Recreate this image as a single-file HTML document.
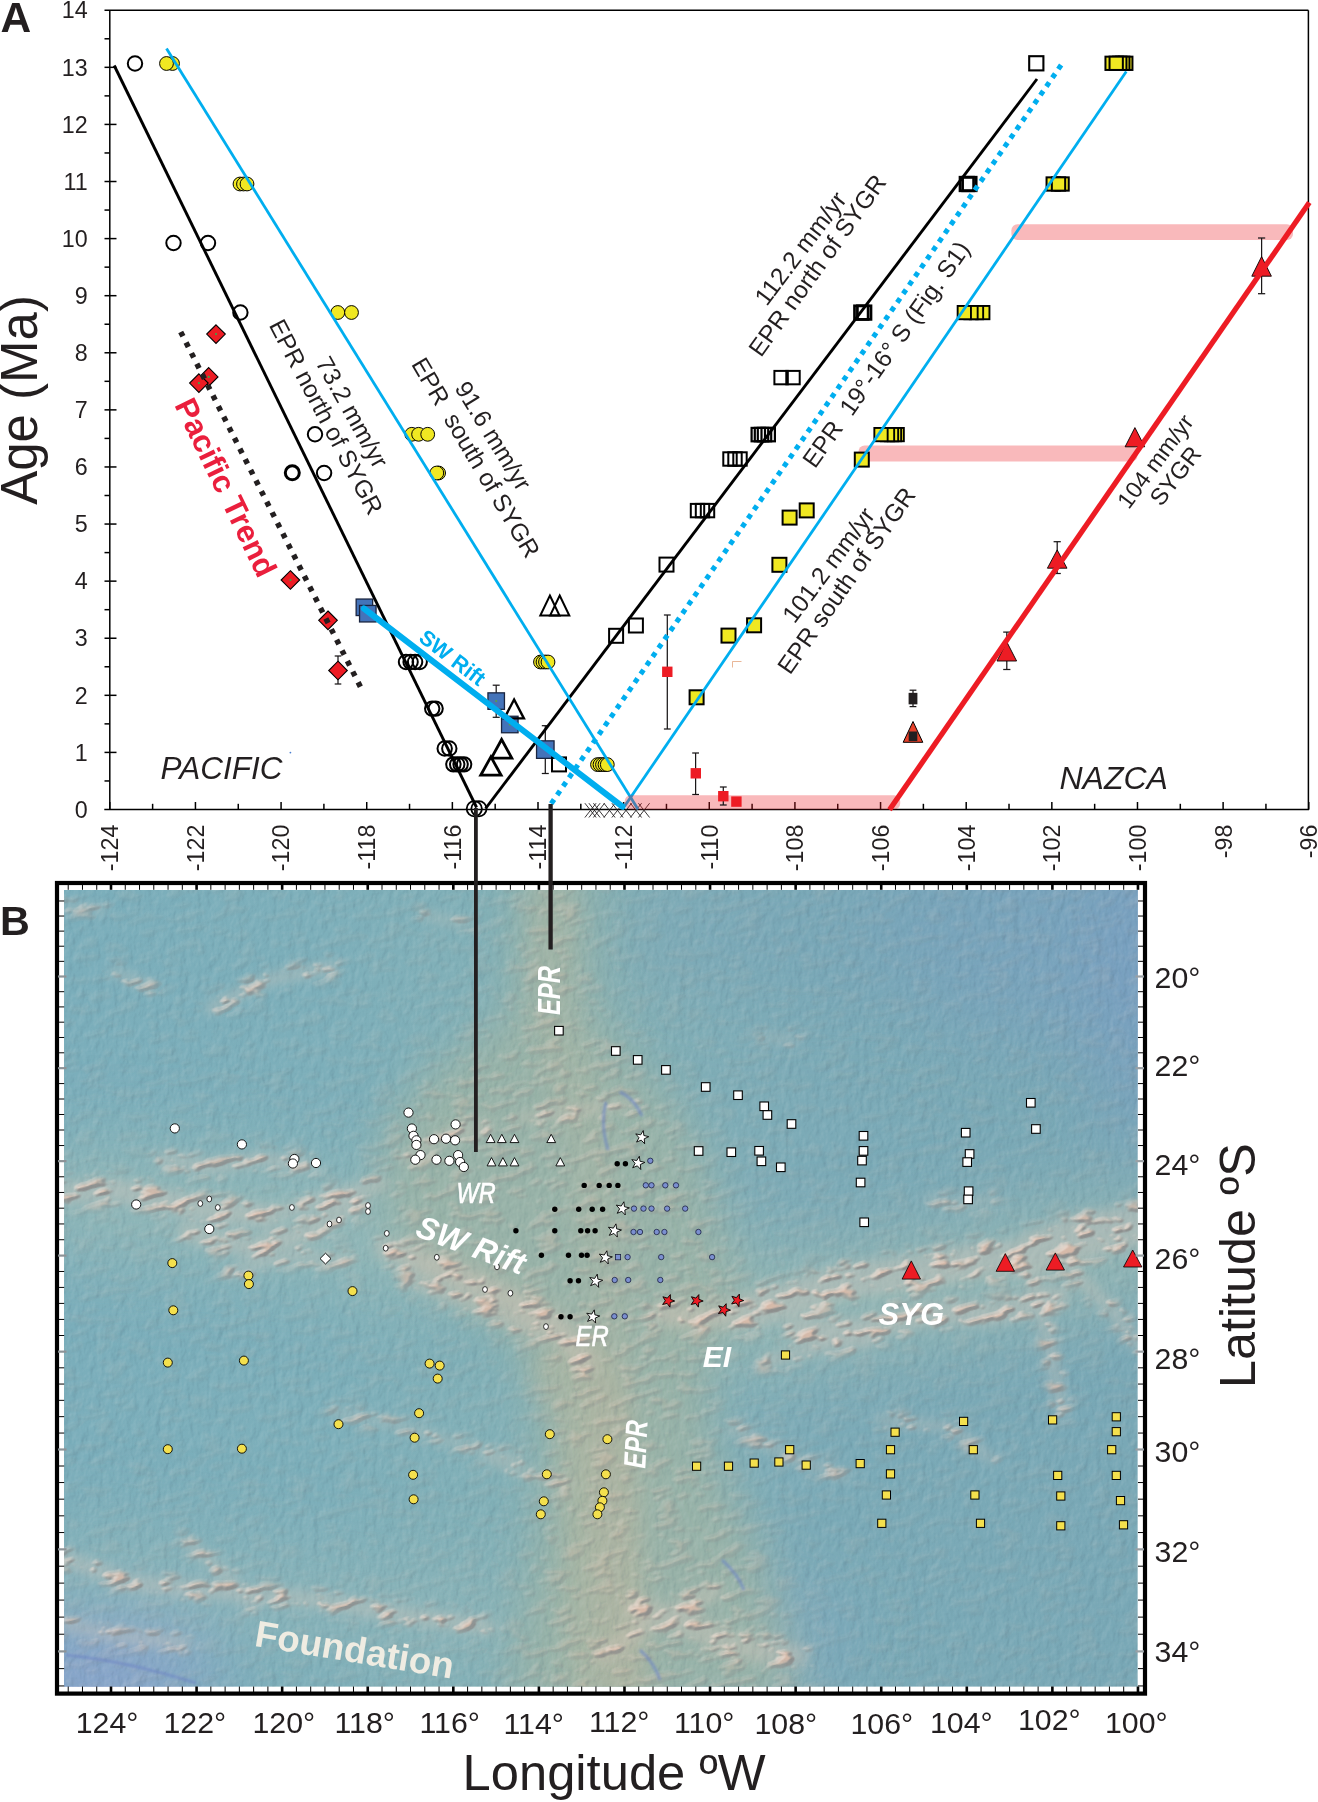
<!DOCTYPE html>
<html lang="en">
<head>
<meta charset="utf-8">
<title>Figure: Age vs Longitude and bathymetric map</title>
<style>
html,body{margin:0;padding:0;background:#fff;}
body{width:1318px;height:1802px;overflow:hidden;}
svg{display:block;font-family:"Liberation Sans",Arial,Helvetica,sans-serif;}
</style>
</head>
<body>
<svg width="1318" height="1802" viewBox="0 0 1318 1802" fill="#231f20">
<rect x="0" y="0" width="1318" height="1802" fill="#ffffff"/>
<g id="panelB">
<defs>
<clipPath id="mapclip"><rect x="64" y="890" width="1073.8" height="796.8"/></clipPath>
<filter id="b40" x="-30%" y="-30%" width="160%" height="160%"><feGaussianBlur stdDeviation="40"/></filter>
<filter id="b25" x="-30%" y="-30%" width="160%" height="160%"><feGaussianBlur stdDeviation="22"/></filter>
<filter id="b12" x="-30%" y="-30%" width="160%" height="160%"><feGaussianBlur stdDeviation="11"/></filter>
<filter id="b6" x="-20%" y="-20%" width="140%" height="140%"><feGaussianBlur stdDeviation="6"/></filter>
<filter id="b1" x="-5%" y="-5%" width="110%" height="110%"><feGaussianBlur stdDeviation="1.3"/></filter>
<filter id="fabric" x="0" y="0" width="100%" height="100%" color-interpolation-filters="sRGB">
  <feTurbulence type="fractalNoise" baseFrequency="0.12 0.07" numOctaves="4" seed="11" result="n"/>
  <feDiffuseLighting in="n" surfaceScale="1.6" diffuseConstant="1" lighting-color="#ffffff" result="l">
    <feDistantLight azimuth="215" elevation="50"/>
  </feDiffuseLighting>
  <feColorMatrix in="l" type="matrix" values="0 0 0 0 1  0 0 0 0 1  0 0 0 0 1  2.2 0 0 0 -1.68" result="hi"/>
  <feColorMatrix in="l" type="matrix" values="0 0 0 0 0.22  0 0 0 0 0.32  0 0 0 0 0.40  -2.2 0 0 0 1.60" result="lo"/>
  <feMerge><feMergeNode in="lo"/><feMergeNode in="hi"/></feMerge>
</filter>
<filter id="ridges" x="0" y="0" width="100%" height="100%" color-interpolation-filters="sRGB">
  <feTurbulence type="fractalNoise" baseFrequency="0.04 0.13" numOctaves="3" seed="4" result="n"/>
  <feColorMatrix in="n" type="matrix" values="0 0 0 0 0  0 0 0 0 0  0 0 0 0 0  7 0 0 0 -3.85" result="h"/>
  <feGaussianBlur in="h" stdDeviation="1.1" result="hb"/>
  <feDiffuseLighting in="hb" surfaceScale="3.2" diffuseConstant="1" lighting-color="#ffffff" result="lit">
    <feDistantLight azimuth="235" elevation="45"/>
  </feDiffuseLighting>
  <feColorMatrix in="lit" type="matrix" values="0 0 0 0 0.97  0 0 0 0 0.90  0 0 0 0 0.86  2.6 0 0 0 -1.95" result="hi"/>
  <feColorMatrix in="lit" type="matrix" values="0 0 0 0 0.52  0 0 0 0 0.52  0 0 0 0 0.52  -1.4 0 0 0 0.9" result="lo"/>
  <feColorMatrix in="hb" type="matrix" values="0 0 0 0 0.86  0 0 0 0 0.73  0 0 0 0 0.66  0 0 0 1.0 0" result="body"/>
  <feMerge><feMergeNode in="body"/><feMergeNode in="lo"/><feMergeNode in="hi"/></feMerge>
</filter>
<linearGradient id="seaLR" gradientUnits="userSpaceOnUse" x1="64" y1="0" x2="1138" y2="0">
  <stop offset="0" stop-color="#7baebb"/><stop offset="0.25" stop-color="#7dafba"/>
  <stop offset="0.40" stop-color="#82b0b7"/><stop offset="0.50" stop-color="#86b0b4"/>
  <stop offset="0.60" stop-color="#80aeb7"/>
  <stop offset="0.72" stop-color="#7baab7"/><stop offset="1" stop-color="#79a8b6"/>
</linearGradient>
<mask id="chainmask" maskUnits="userSpaceOnUse" x="64" y="890" width="1073.8" height="796.8">
<rect x="64" y="890" width="1073.8" height="796.8" fill="#000"/>
<g filter="url(#b6)" fill="none" stroke="#fff" stroke-linecap="round" stroke-linejoin="round">
<path d="M64,1193.13 L112.89,1189.87 L161.78,1199.65 L218.82,1211.87 L267.72,1215.95" stroke-width="26"/>
<path d="M161.78,1158.9 L210.68,1167.05 L259.57,1158.9 L308.46,1165.42" stroke-width="16"/>
<path d="M186.23,1232.24 L251.42,1248.54 L308.46,1232.24 L357.35,1199.65" stroke-width="22"/>
<path d="M284.01,1211.87 L332.9,1195.57 L381.8,1184.98" stroke-width="16"/>
<path d="M226.97,1272.99 L292.16,1256.69 L349.2,1260.76" stroke-width="12"/>
<path d="M385.87,1248.54 L446.99,1272.99 L504.03,1297.43 L561.07,1330.03 L585.51,1362.62" stroke-width="26"/>
<path d="M406.24,1281.13 L471.43,1305.58 L536.62,1334.1" stroke-width="12"/>
<path d="M520.32,1118.16 L569.22,1111.64 L634.4,1103.49" stroke-width="12"/>
<path d="M658.85,1313.73 L707.74,1317.8 L748.49,1309.65" stroke-width="24"/>
<path d="M740.34,1313.73 L797.38,1297.43 L846.27,1281.13 L911.46,1272.99 L976.65,1260.76 L1041.84,1256.69 L1090.73,1240.39 L1137.99,1228.17" stroke-width="40"/>
<path d="M1025.54,1240.39 L1082.58,1220.02 L1137.99,1211.87" stroke-width="18"/>
<path d="M797.38,1330.03 L862.57,1330.03 L927.75,1313.73 L992.94,1313.73 L1058.13,1297.43" stroke-width="26"/>
<path d="M1033.69,1281.13 L1049.98,1346.32 L1062.21,1411.51" stroke-width="14"/>
<path d="M1074.43,1272.99 L1115.17,1313.73 L1137.99,1346.32" stroke-width="14"/>
<path d="M764.78,1362.62 L821.82,1346.32 L870.71,1342.25" stroke-width="14"/>
<path d="M64,1558.19 L129.19,1582.63 L210.68,1590.78 L308.46,1598.93 L406.24,1615.23 L487.73,1627.45" stroke-width="18"/>
<path d="M186.23,1541.89 L226.97,1574.49 L251.42,1607.08" stroke-width="12"/>
<path d="M64,1623.38 L112.89,1635.6 L186.23,1643.75" stroke-width="14"/>
<path d="M634.4,1607.08 L683.3,1623.38 L740.34,1647.82 L797.38,1655.97" stroke-width="26"/>
<path d="M601.81,1655.97 L650.7,1623.38 L715.89,1590.78" stroke-width="18"/>
<path d="M332.9,1411.51 L406.24,1427.81 L487.73,1452.26 L520.32,1460.4" stroke-width="9"/>
<path d="M487.73,1460.4 L536.62,1476.7 L569.22,1484.85" stroke-width="8"/>
<path d="M210.68,1008.16 L267.72,979.63 L332.9,967.41" stroke-width="14"/>
<path d="M112.89,971.49 L153.63,987.78" stroke-width="10"/>
<path d="M64,906.3 L104.74,910.37" stroke-width="8"/>
<path d="M406.24,1158.9 L446.99,1134.46 L487.73,1126.31" stroke-width="14"/>
<path d="M764.78,1036.68 L797.38,1040.75" stroke-width="8"/>
<path d="M927.75,1199.65 L960.35,1203.72 L992.94,1199.65" stroke-width="8"/>
<path d="M878.86,1419.66 L952.2,1427.81 L992.94,1460.4" stroke-width="10"/>
<path d="M732.19,1427.81 L797.38,1460.4 L846.27,1476.7" stroke-width="10"/>
<path d="M422.54,914.45 L471.43,926.67" stroke-width="8"/>
</g>
<rect x="64" y="890" width="1073.8" height="796.8" fill="#fff" opacity="0.10"/>
<polygon points="520.32,865.55 585.51,865.55 593.66,1012.23 650.7,1077.42 695.52,1134.46 719.96,1215.95 744.41,1281.13 724.04,1334.1 707.74,1378.92 715.89,1460.4 756.63,1541.89 785.15,1623.38 801.45,1713.01 508.1,1713.01 520.32,1623.38 536.62,1541.89 544.77,1460.4 536.62,1378.92 508.1,1330.03 434.76,1281.13 381.8,1215.95 381.8,1134.46 422.54,1077.42 510.54,1012.23" fill="#fff" opacity="0.22" filter="url(#b25)"/>
</mask>
</defs>
<g id="mapbg" clip-path="url(#mapclip)">
<rect x="64" y="890" width="1073.8" height="796.8" fill="url(#seaLR)"/>
<g filter="url(#b40)">
<ellipse cx="1090" cy="930" rx="230" ry="110" fill="#78a0c0" opacity="0.6"/>
<ellipse cx="800" cy="930" rx="180" ry="70" fill="#78a5b8" opacity="0.6"/>
<ellipse cx="1160" cy="1000" rx="70" ry="150" fill="#7a9cc2" opacity="0.55"/>
<ellipse cx="95" cy="1675" rx="120" ry="38" fill="#8d9fd2" opacity="0.95"/>
<ellipse cx="750" cy="1640" rx="100" ry="55" fill="#84a8c4" opacity="0.5"/>
<path d="M64,1199.65 L186.23,1207.8 L308.46,1224.09 L414.39,1248.54" fill="none" stroke="#9cbcb6" stroke-width="110" stroke-linecap="round" opacity="0.65"/>
<path d="M740.34,1313.73 L878.86,1297.43 L1001.09,1272.99 L1137.99,1248.54" fill="none" stroke="#9ebab2" stroke-width="110" stroke-linecap="round" opacity="0.7"/>
<path d="M64,1566.34 L226.97,1590.78 L471.43,1623.38" fill="none" stroke="#98b8b8" stroke-width="90" stroke-linecap="round" opacity="0.55"/>
</g>
<g filter="url(#b25)">
<polygon points="520.32,865.55 585.51,865.55 593.66,1012.23 650.7,1077.42 695.52,1134.46 719.96,1215.95 744.41,1281.13 724.04,1334.1 707.74,1378.92 715.89,1460.4 756.63,1541.89 785.15,1623.38 801.45,1713.01 508.1,1713.01 520.32,1623.38 536.62,1541.89 544.77,1460.4 536.62,1378.92 508.1,1330.03 434.76,1281.13 381.8,1215.95 381.8,1134.46 422.54,1077.42 510.54,1012.23" fill="#9ab3a6" opacity="0.9"/>
</g>
<g filter="url(#b12)">
<path d="M551.29,873.7 L552.92,1012.23 L585.51,1134.46 L609.96,1313.73 L605.88,1460.4 L626.26,1704.86" fill="none" stroke="#adb5a2" stroke-width="46" opacity="0.4"/>
<path d="M561.07,1346.32 L593.66,1411.51 L601.81,1509.3 L609.96,1704.86" fill="none" stroke="#b8b49e" stroke-width="80" opacity="0.42"/>
<path d="M406.24,1248.54 L487.73,1289.28 L569.22,1334.1" fill="none" stroke="#b4b6a6" stroke-width="40" opacity="0.45"/>
<path d="M658.85,1313.73 L732.19,1313.73" fill="none" stroke="#b4b6a6" stroke-width="36" opacity="0.4"/>
</g>
<rect x="64" y="890" width="1073.8" height="796.8" fill="#ffffff" filter="url(#fabric)" opacity="0.2"/>
<g filter="url(#b6)" fill="none" stroke="#d8c8bc" stroke-linecap="round" stroke-linejoin="round" opacity="0.36">
<path d="M64,1193.13 L112.89,1189.87 L161.78,1199.65 L218.82,1211.87 L267.72,1215.95" stroke-width="23.4"/>
<path d="M161.78,1158.9 L210.68,1167.05 L259.57,1158.9 L308.46,1165.42" stroke-width="14.4"/>
<path d="M186.23,1232.24 L251.42,1248.54 L308.46,1232.24 L357.35,1199.65" stroke-width="19.8"/>
<path d="M284.01,1211.87 L332.9,1195.57 L381.8,1184.98" stroke-width="14.4"/>
<path d="M226.97,1272.99 L292.16,1256.69 L349.2,1260.76" stroke-width="10.8"/>
<path d="M385.87,1248.54 L446.99,1272.99 L504.03,1297.43 L561.07,1330.03 L585.51,1362.62" stroke-width="23.4"/>
<path d="M406.24,1281.13 L471.43,1305.58 L536.62,1334.1" stroke-width="10.8"/>
<path d="M520.32,1118.16 L569.22,1111.64 L634.4,1103.49" stroke-width="10.8"/>
<path d="M658.85,1313.73 L707.74,1317.8 L748.49,1309.65" stroke-width="21.6"/>
<path d="M740.34,1313.73 L797.38,1297.43 L846.27,1281.13 L911.46,1272.99 L976.65,1260.76 L1041.84,1256.69 L1090.73,1240.39 L1137.99,1228.17" stroke-width="36"/>
<path d="M1025.54,1240.39 L1082.58,1220.02 L1137.99,1211.87" stroke-width="16.2"/>
<path d="M797.38,1330.03 L862.57,1330.03 L927.75,1313.73 L992.94,1313.73 L1058.13,1297.43" stroke-width="23.4"/>
<path d="M1033.69,1281.13 L1049.98,1346.32 L1062.21,1411.51" stroke-width="12.6"/>
<path d="M1074.43,1272.99 L1115.17,1313.73 L1137.99,1346.32" stroke-width="12.6"/>
<path d="M764.78,1362.62 L821.82,1346.32 L870.71,1342.25" stroke-width="12.6"/>
<path d="M64,1558.19 L129.19,1582.63 L210.68,1590.78 L308.46,1598.93 L406.24,1615.23 L487.73,1627.45" stroke-width="16.2"/>
<path d="M186.23,1541.89 L226.97,1574.49 L251.42,1607.08" stroke-width="10.8"/>
<path d="M64,1623.38 L112.89,1635.6 L186.23,1643.75" stroke-width="12.6"/>
<path d="M634.4,1607.08 L683.3,1623.38 L740.34,1647.82 L797.38,1655.97" stroke-width="23.4"/>
<path d="M601.81,1655.97 L650.7,1623.38 L715.89,1590.78" stroke-width="16.2"/>
<path d="M332.9,1411.51 L406.24,1427.81 L487.73,1452.26 L520.32,1460.4" stroke-width="8.1"/>
<path d="M487.73,1460.4 L536.62,1476.7 L569.22,1484.85" stroke-width="7.2"/>
<path d="M210.68,1008.16 L267.72,979.63 L332.9,967.41" stroke-width="12.6"/>
<path d="M112.89,971.49 L153.63,987.78" stroke-width="9"/>
<path d="M64,906.3 L104.74,910.37" stroke-width="7.2"/>
<path d="M406.24,1158.9 L446.99,1134.46 L487.73,1126.31" stroke-width="12.6"/>
<path d="M764.78,1036.68 L797.38,1040.75" stroke-width="7.2"/>
<path d="M927.75,1199.65 L960.35,1203.72 L992.94,1199.65" stroke-width="7.2"/>
<path d="M878.86,1419.66 L952.2,1427.81 L992.94,1460.4" stroke-width="9"/>
<path d="M732.19,1427.81 L797.38,1460.4 L846.27,1476.7" stroke-width="9"/>
<path d="M422.54,914.45 L471.43,926.67" stroke-width="7.2"/>
</g>
<g mask="url(#chainmask)" opacity="0.9"><g transform="rotate(-14 600 1290)"><rect x="-100" y="600" width="1500" height="1400" fill="#ffffff" filter="url(#ridges)"/></g></g>
<g filter="url(#b1)" fill="none" stroke="#6d86c4" stroke-width="3" opacity="0.6">
<path d="M620,1092 q14,6 22,24"/>
<path d="M606,1102 q-6,22 2,48"/>
<path d="M722,1560 q16,14 22,30"/>
<path d="M640,1650 q14,12 20,30"/>
<path d="M66,1655 q60,6 130,28"/>
</g>
</g>
<g id="mapmarkers">
<circle cx="408.5" cy="1112.6" r="4.6" fill="#ffffff" stroke="#000" stroke-width="0.9"/>
<circle cx="411.9" cy="1128.5" r="4.6" fill="#ffffff" stroke="#000" stroke-width="0.9"/>
<circle cx="413.5" cy="1135.8" r="4.6" fill="#ffffff" stroke="#000" stroke-width="0.9"/>
<circle cx="416.4" cy="1140.3" r="4.6" fill="#ffffff" stroke="#000" stroke-width="0.9"/>
<circle cx="416.4" cy="1144.9" r="4.6" fill="#ffffff" stroke="#000" stroke-width="0.9"/>
<circle cx="455.6" cy="1124.4" r="4.6" fill="#ffffff" stroke="#000" stroke-width="0.9"/>
<circle cx="434" cy="1139.2" r="4.6" fill="#ffffff" stroke="#000" stroke-width="0.9"/>
<circle cx="446" cy="1138.7" r="4.6" fill="#ffffff" stroke="#000" stroke-width="0.9"/>
<circle cx="455.1" cy="1140.3" r="4.6" fill="#ffffff" stroke="#000" stroke-width="0.9"/>
<circle cx="420.5" cy="1155.1" r="4.6" fill="#ffffff" stroke="#000" stroke-width="0.9"/>
<circle cx="415.3" cy="1159.7" r="4.6" fill="#ffffff" stroke="#000" stroke-width="0.9"/>
<circle cx="436.5" cy="1159.7" r="4.6" fill="#ffffff" stroke="#000" stroke-width="0.9"/>
<circle cx="449.4" cy="1160.8" r="4.6" fill="#ffffff" stroke="#000" stroke-width="0.9"/>
<circle cx="458.1" cy="1155.1" r="4.6" fill="#ffffff" stroke="#000" stroke-width="0.9"/>
<circle cx="460.1" cy="1162" r="4.6" fill="#ffffff" stroke="#000" stroke-width="0.9"/>
<circle cx="463.8" cy="1167" r="4.6" fill="#ffffff" stroke="#000" stroke-width="0.9"/>
<circle cx="174.8" cy="1128.4" r="4.6" fill="#ffffff" stroke="#000" stroke-width="0.9"/>
<circle cx="241.9" cy="1144.4" r="4.6" fill="#ffffff" stroke="#000" stroke-width="0.9"/>
<circle cx="294.4" cy="1159" r="4.6" fill="#ffffff" stroke="#000" stroke-width="0.9"/>
<circle cx="292.9" cy="1163.5" r="4.6" fill="#ffffff" stroke="#000" stroke-width="0.9"/>
<circle cx="316" cy="1163" r="4.6" fill="#ffffff" stroke="#000" stroke-width="0.9"/>
<circle cx="136.2" cy="1204.5" r="4.6" fill="#ffffff" stroke="#000" stroke-width="0.9"/>
<circle cx="209.3" cy="1229" r="4.6" fill="#ffffff" stroke="#000" stroke-width="0.9"/>
<polygon points="325.5,1253.2 331,1258.6 325.5,1264 320,1258.6" fill="#fff" stroke="#000" stroke-width="0.9"/>
<ellipse cx="200.3" cy="1203.5" rx="2.4" ry="2.9" fill="#fff" stroke="#000" stroke-width="0.8"/>
<ellipse cx="209.3" cy="1199" rx="2.4" ry="2.9" fill="#fff" stroke="#000" stroke-width="0.8"/>
<ellipse cx="217.8" cy="1207.5" rx="2.4" ry="2.9" fill="#fff" stroke="#000" stroke-width="0.8"/>
<ellipse cx="291.9" cy="1207.5" rx="2.4" ry="2.9" fill="#fff" stroke="#000" stroke-width="0.8"/>
<ellipse cx="329.5" cy="1224" rx="2.4" ry="2.9" fill="#fff" stroke="#000" stroke-width="0.8"/>
<ellipse cx="339" cy="1220" rx="2.4" ry="2.9" fill="#fff" stroke="#000" stroke-width="0.8"/>
<ellipse cx="368" cy="1205.5" rx="2.4" ry="2.9" fill="#fff" stroke="#000" stroke-width="0.8"/>
<ellipse cx="368" cy="1211.5" rx="2.4" ry="2.9" fill="#fff" stroke="#000" stroke-width="0.8"/>
<ellipse cx="386.8" cy="1233.4" rx="2.4" ry="2.9" fill="#fff" stroke="#000" stroke-width="0.8"/>
<ellipse cx="385.7" cy="1248.2" rx="2.4" ry="2.9" fill="#fff" stroke="#000" stroke-width="0.8"/>
<ellipse cx="436.8" cy="1257.3" rx="2.4" ry="2.9" fill="#fff" stroke="#000" stroke-width="0.8"/>
<ellipse cx="497" cy="1266.9" rx="2.4" ry="2.9" fill="#fff" stroke="#000" stroke-width="0.8"/>
<ellipse cx="485" cy="1289.5" rx="2.4" ry="2.9" fill="#fff" stroke="#000" stroke-width="0.8"/>
<ellipse cx="510.4" cy="1293.2" rx="2.4" ry="2.9" fill="#fff" stroke="#000" stroke-width="0.8"/>
<ellipse cx="546" cy="1326.6" rx="2.4" ry="2.9" fill="#fff" stroke="#000" stroke-width="0.8"/>
<circle cx="172.3" cy="1263.1" r="4.5" fill="#f4e04d" stroke="#000" stroke-width="0.9"/>
<circle cx="248.4" cy="1275.6" r="4.5" fill="#f4e04d" stroke="#000" stroke-width="0.9"/>
<circle cx="248.9" cy="1284.1" r="4.5" fill="#f4e04d" stroke="#000" stroke-width="0.9"/>
<circle cx="352.5" cy="1291.1" r="4.5" fill="#f4e04d" stroke="#000" stroke-width="0.9"/>
<circle cx="173.3" cy="1310.3" r="4.5" fill="#f4e04d" stroke="#000" stroke-width="0.9"/>
<circle cx="167.8" cy="1362.6" r="4.5" fill="#f4e04d" stroke="#000" stroke-width="0.9"/>
<circle cx="243.9" cy="1360.6" r="4.5" fill="#f4e04d" stroke="#000" stroke-width="0.9"/>
<circle cx="429.6" cy="1363.6" r="4.5" fill="#f4e04d" stroke="#000" stroke-width="0.9"/>
<circle cx="439.7" cy="1365.6" r="4.5" fill="#f4e04d" stroke="#000" stroke-width="0.9"/>
<circle cx="437.7" cy="1378.6" r="4.5" fill="#f4e04d" stroke="#000" stroke-width="0.9"/>
<circle cx="419.1" cy="1413.2" r="4.5" fill="#f4e04d" stroke="#000" stroke-width="0.9"/>
<circle cx="338.5" cy="1424.2" r="4.5" fill="#f4e04d" stroke="#000" stroke-width="0.9"/>
<circle cx="414.6" cy="1437.7" r="4.5" fill="#f4e04d" stroke="#000" stroke-width="0.9"/>
<circle cx="167.8" cy="1449.2" r="4.5" fill="#f4e04d" stroke="#000" stroke-width="0.9"/>
<circle cx="241.9" cy="1448.7" r="4.5" fill="#f4e04d" stroke="#000" stroke-width="0.9"/>
<circle cx="413.1" cy="1474.8" r="4.5" fill="#f4e04d" stroke="#000" stroke-width="0.9"/>
<circle cx="413.6" cy="1499.3" r="4.5" fill="#f4e04d" stroke="#000" stroke-width="0.9"/>
<circle cx="549.8" cy="1434.2" r="4.5" fill="#f4e04d" stroke="#000" stroke-width="0.9"/>
<circle cx="607.4" cy="1439.2" r="4.5" fill="#f4e04d" stroke="#000" stroke-width="0.9"/>
<circle cx="546.8" cy="1474.3" r="4.5" fill="#f4e04d" stroke="#000" stroke-width="0.9"/>
<circle cx="605.9" cy="1474.3" r="4.5" fill="#f4e04d" stroke="#000" stroke-width="0.9"/>
<circle cx="543.8" cy="1501.3" r="4.5" fill="#f4e04d" stroke="#000" stroke-width="0.9"/>
<circle cx="540.8" cy="1514.3" r="4.5" fill="#f4e04d" stroke="#000" stroke-width="0.9"/>
<circle cx="603.9" cy="1492.3" r="4.5" fill="#f4e04d" stroke="#000" stroke-width="0.9"/>
<circle cx="602.4" cy="1500.8" r="4.5" fill="#f4e04d" stroke="#000" stroke-width="0.9"/>
<circle cx="599.9" cy="1507.3" r="4.5" fill="#f4e04d" stroke="#000" stroke-width="0.9"/>
<circle cx="597.4" cy="1514.3" r="4.5" fill="#f4e04d" stroke="#000" stroke-width="0.9"/>
<polygon points="490.6,1134.3 495,1142.6 486.2,1142.6" fill="#ffffff" stroke="#000" stroke-width="0.9" stroke-linejoin="miter"/>
<polygon points="501.8,1134.3 506.2,1142.6 497.4,1142.6" fill="#ffffff" stroke="#000" stroke-width="0.9" stroke-linejoin="miter"/>
<polygon points="514.5,1134.3 518.9,1142.6 510.1,1142.6" fill="#ffffff" stroke="#000" stroke-width="0.9" stroke-linejoin="miter"/>
<polygon points="551.2,1134.3 555.6,1142.6 546.8,1142.6" fill="#ffffff" stroke="#000" stroke-width="0.9" stroke-linejoin="miter"/>
<polygon points="491.5,1157.6 495.9,1165.9 487.1,1165.9" fill="#ffffff" stroke="#000" stroke-width="0.9" stroke-linejoin="miter"/>
<polygon points="502.9,1157.6 507.3,1165.9 498.5,1165.9" fill="#ffffff" stroke="#000" stroke-width="0.9" stroke-linejoin="miter"/>
<polygon points="514.5,1157.6 518.9,1165.9 510.1,1165.9" fill="#ffffff" stroke="#000" stroke-width="0.9" stroke-linejoin="miter"/>
<polygon points="560.3,1157.6 564.7,1165.9 555.9,1165.9" fill="#ffffff" stroke="#000" stroke-width="0.9" stroke-linejoin="miter"/>
<circle cx="617.2" cy="1163.8" r="2.7" fill="#000"/>
<circle cx="625.4" cy="1163.8" r="2.7" fill="#000"/>
<circle cx="584.2" cy="1185.4" r="2.7" fill="#000"/>
<circle cx="599.2" cy="1185.4" r="2.7" fill="#000"/>
<circle cx="609.2" cy="1185.4" r="2.7" fill="#000"/>
<circle cx="617.9" cy="1185.4" r="2.7" fill="#000"/>
<circle cx="554.8" cy="1209.3" r="2.7" fill="#000"/>
<circle cx="578.7" cy="1209.3" r="2.7" fill="#000"/>
<circle cx="592.2" cy="1209.3" r="2.7" fill="#000"/>
<circle cx="602.6" cy="1209.3" r="2.7" fill="#000"/>
<circle cx="515.9" cy="1230.7" r="2.7" fill="#000"/>
<circle cx="554.8" cy="1230.7" r="2.7" fill="#000"/>
<circle cx="580.8" cy="1230.7" r="2.7" fill="#000"/>
<circle cx="587.6" cy="1230.7" r="2.7" fill="#000"/>
<circle cx="595.1" cy="1230.7" r="2.7" fill="#000"/>
<circle cx="541.4" cy="1255.3" r="2.7" fill="#000"/>
<circle cx="568.5" cy="1255.3" r="2.7" fill="#000"/>
<circle cx="581.5" cy="1255.3" r="2.7" fill="#000"/>
<circle cx="587.1" cy="1255.3" r="2.7" fill="#000"/>
<circle cx="570.1" cy="1280.8" r="2.7" fill="#000"/>
<circle cx="578.5" cy="1280.8" r="2.7" fill="#000"/>
<circle cx="561" cy="1316.7" r="2.7" fill="#000"/>
<circle cx="570.1" cy="1316.7" r="2.7" fill="#000"/>
<circle cx="650.3" cy="1160.8" r="2.7" fill="#7b8fd0" stroke="#1b2040" stroke-width="0.8"/>
<circle cx="645.8" cy="1185.3" r="2.7" fill="#7b8fd0" stroke="#1b2040" stroke-width="0.8"/>
<circle cx="651.5" cy="1185.3" r="2.7" fill="#7b8fd0" stroke="#1b2040" stroke-width="0.8"/>
<circle cx="665.3" cy="1185.3" r="2.7" fill="#7b8fd0" stroke="#1b2040" stroke-width="0.8"/>
<circle cx="676" cy="1185.3" r="2.7" fill="#7b8fd0" stroke="#1b2040" stroke-width="0.8"/>
<circle cx="634" cy="1208.6" r="2.7" fill="#7b8fd0" stroke="#1b2040" stroke-width="0.8"/>
<circle cx="643.5" cy="1208.6" r="2.7" fill="#7b8fd0" stroke="#1b2040" stroke-width="0.8"/>
<circle cx="651.5" cy="1208.6" r="2.7" fill="#7b8fd0" stroke="#1b2040" stroke-width="0.8"/>
<circle cx="667.1" cy="1208.6" r="2.7" fill="#7b8fd0" stroke="#1b2040" stroke-width="0.8"/>
<circle cx="685.2" cy="1208.6" r="2.7" fill="#7b8fd0" stroke="#1b2040" stroke-width="0.8"/>
<circle cx="633.5" cy="1232" r="2.7" fill="#7b8fd0" stroke="#1b2040" stroke-width="0.8"/>
<circle cx="640" cy="1232" r="2.7" fill="#7b8fd0" stroke="#1b2040" stroke-width="0.8"/>
<circle cx="656.7" cy="1232" r="2.7" fill="#7b8fd0" stroke="#1b2040" stroke-width="0.8"/>
<circle cx="664.4" cy="1232" r="2.7" fill="#7b8fd0" stroke="#1b2040" stroke-width="0.8"/>
<circle cx="698.4" cy="1232" r="2.7" fill="#7b8fd0" stroke="#1b2040" stroke-width="0.8"/>
<circle cx="627.6" cy="1257.1" r="2.7" fill="#7b8fd0" stroke="#1b2040" stroke-width="0.8"/>
<circle cx="661.2" cy="1257.1" r="2.7" fill="#7b8fd0" stroke="#1b2040" stroke-width="0.8"/>
<circle cx="712.1" cy="1257.1" r="2.7" fill="#7b8fd0" stroke="#1b2040" stroke-width="0.8"/>
<circle cx="614.7" cy="1280" r="2.7" fill="#7b8fd0" stroke="#1b2040" stroke-width="0.8"/>
<circle cx="628.2" cy="1280" r="2.7" fill="#7b8fd0" stroke="#1b2040" stroke-width="0.8"/>
<circle cx="660.3" cy="1280" r="2.7" fill="#7b8fd0" stroke="#1b2040" stroke-width="0.8"/>
<circle cx="614.3" cy="1316.3" r="2.7" fill="#7b8fd0" stroke="#1b2040" stroke-width="0.8"/>
<circle cx="624.8" cy="1316.3" r="2.7" fill="#7b8fd0" stroke="#1b2040" stroke-width="0.8"/>
<rect x="615.4" y="1254.6" width="5.2" height="5.2" fill="#7b8fd0" stroke="#1b2040" stroke-width="0.8"/>
<polygon points="643.26,1130.55 643.88,1135.53 648.76,1136.67 644.22,1138.8 644.65,1143.79 641.22,1140.14 636.6,1142.08 639.02,1137.69 635.74,1133.9 640.66,1134.84" fill="#ffffff" stroke="#000" stroke-width="0.9" stroke-linejoin="miter"/>
<polygon points="639.36,1156.25 639.98,1161.23 644.86,1162.37 640.32,1164.5 640.75,1169.49 637.32,1165.84 632.7,1167.78 635.12,1163.39 631.84,1159.6 636.76,1160.54" fill="#ffffff" stroke="#000" stroke-width="0.9" stroke-linejoin="miter"/>
<polygon points="623.86,1201.75 624.48,1206.73 629.36,1207.87 624.82,1210 625.25,1214.99 621.82,1211.34 617.2,1213.28 619.62,1208.89 616.34,1205.1 621.26,1206.04" fill="#ffffff" stroke="#000" stroke-width="0.9" stroke-linejoin="miter"/>
<polygon points="615.96,1223.85 616.58,1228.83 621.46,1229.97 616.92,1232.1 617.35,1237.09 613.92,1233.44 609.3,1235.38 611.72,1230.99 608.44,1227.2 613.36,1228.14" fill="#ffffff" stroke="#000" stroke-width="0.9" stroke-linejoin="miter"/>
<polygon points="606.86,1250.75 607.48,1255.73 612.36,1256.87 607.82,1259 608.25,1263.99 604.82,1260.34 600.2,1262.28 602.62,1257.89 599.34,1254.1 604.26,1255.04" fill="#ffffff" stroke="#000" stroke-width="0.9" stroke-linejoin="miter"/>
<polygon points="597.26,1274.15 597.88,1279.13 602.76,1280.27 598.22,1282.4 598.65,1287.39 595.22,1283.74 590.6,1285.68 593.02,1281.29 589.74,1277.5 594.66,1278.44" fill="#ffffff" stroke="#000" stroke-width="0.9" stroke-linejoin="miter"/>
<polygon points="594.26,1309.85 594.88,1314.83 599.76,1315.97 595.22,1318.1 595.65,1323.09 592.22,1319.44 587.6,1321.38 590.02,1316.99 586.74,1313.2 591.66,1314.14" fill="#ffffff" stroke="#000" stroke-width="0.9" stroke-linejoin="miter"/>
<polygon points="670.36,1294.6 670.42,1299.23 674.7,1301.03 670.31,1302.52 669.92,1307.14 667.14,1303.43 662.63,1304.49 665.3,1300.7 662.9,1296.74 667.33,1298.11" fill="#ed1c24" stroke="#000" stroke-width="0.9" stroke-linejoin="miter"/>
<polygon points="698.86,1294.6 698.92,1299.23 703.2,1301.03 698.81,1302.52 698.42,1307.14 695.64,1303.43 691.13,1304.49 693.8,1300.7 691.4,1296.74 695.83,1298.11" fill="#ed1c24" stroke="#000" stroke-width="0.9" stroke-linejoin="miter"/>
<polygon points="726.16,1303.7 726.22,1308.33 730.5,1310.13 726.11,1311.62 725.72,1316.24 722.94,1312.53 718.43,1313.59 721.1,1309.8 718.7,1305.84 723.13,1307.21" fill="#ed1c24" stroke="#000" stroke-width="0.9" stroke-linejoin="miter"/>
<polygon points="739.36,1294.1 739.42,1298.73 743.7,1300.53 739.31,1302.02 738.92,1306.64 736.14,1302.93 731.63,1303.99 734.3,1300.2 731.9,1296.24 736.33,1297.61" fill="#ed1c24" stroke="#000" stroke-width="0.9" stroke-linejoin="miter"/>
<rect x="554.6" y="1026.4" width="8.6" height="8.6" fill="#ffffff" stroke="#000" stroke-width="1.1"/>
<rect x="611.5" y="1046.7" width="8.6" height="8.6" fill="#ffffff" stroke="#000" stroke-width="1.1"/>
<rect x="633.4" y="1055.6" width="8.6" height="8.6" fill="#ffffff" stroke="#000" stroke-width="1.1"/>
<rect x="661.6" y="1065.6" width="8.6" height="8.6" fill="#ffffff" stroke="#000" stroke-width="1.1"/>
<rect x="701.4" y="1082.7" width="8.6" height="8.6" fill="#ffffff" stroke="#000" stroke-width="1.1"/>
<rect x="733.7" y="1090.9" width="8.6" height="8.6" fill="#ffffff" stroke="#000" stroke-width="1.1"/>
<rect x="759.9" y="1102" width="8.6" height="8.6" fill="#ffffff" stroke="#000" stroke-width="1.1"/>
<rect x="763.1" y="1110.7" width="8.6" height="8.6" fill="#ffffff" stroke="#000" stroke-width="1.1"/>
<rect x="787.2" y="1119.7" width="8.6" height="8.6" fill="#ffffff" stroke="#000" stroke-width="1.1"/>
<rect x="694.3" y="1146.7" width="8.6" height="8.6" fill="#ffffff" stroke="#000" stroke-width="1.1"/>
<rect x="727" y="1147.9" width="8.6" height="8.6" fill="#ffffff" stroke="#000" stroke-width="1.1"/>
<rect x="754.8" y="1146.5" width="8.6" height="8.6" fill="#ffffff" stroke="#000" stroke-width="1.1"/>
<rect x="757.1" y="1157" width="8.6" height="8.6" fill="#ffffff" stroke="#000" stroke-width="1.1"/>
<rect x="776.5" y="1163" width="8.6" height="8.6" fill="#ffffff" stroke="#000" stroke-width="1.1"/>
<rect x="859.2" y="1131.5" width="8.6" height="8.6" fill="#ffffff" stroke="#000" stroke-width="1.1"/>
<rect x="859.2" y="1146.6" width="8.6" height="8.6" fill="#ffffff" stroke="#000" stroke-width="1.1"/>
<rect x="857.7" y="1156.3" width="8.6" height="8.6" fill="#ffffff" stroke="#000" stroke-width="1.1"/>
<rect x="856.3" y="1178.2" width="8.6" height="8.6" fill="#ffffff" stroke="#000" stroke-width="1.1"/>
<rect x="859.9" y="1218" width="8.6" height="8.6" fill="#ffffff" stroke="#000" stroke-width="1.1"/>
<rect x="961.4" y="1128.4" width="8.6" height="8.6" fill="#ffffff" stroke="#000" stroke-width="1.1"/>
<rect x="965.3" y="1149.7" width="8.6" height="8.6" fill="#ffffff" stroke="#000" stroke-width="1.1"/>
<rect x="962.9" y="1157.8" width="8.6" height="8.6" fill="#ffffff" stroke="#000" stroke-width="1.1"/>
<rect x="964.3" y="1186.9" width="8.6" height="8.6" fill="#ffffff" stroke="#000" stroke-width="1.1"/>
<rect x="963.8" y="1195.1" width="8.6" height="8.6" fill="#ffffff" stroke="#000" stroke-width="1.1"/>
<rect x="1026.5" y="1098.5" width="8.6" height="8.6" fill="#ffffff" stroke="#000" stroke-width="1.1"/>
<rect x="1031.6" y="1124.7" width="8.6" height="8.6" fill="#ffffff" stroke="#000" stroke-width="1.1"/>
<rect x="781.4" y="1350.9" width="8.2" height="8.2" fill="#f4e04d" stroke="#000" stroke-width="1"/>
<rect x="692.5" y="1462.1" width="8.2" height="8.2" fill="#f4e04d" stroke="#000" stroke-width="1"/>
<rect x="724.4" y="1462.1" width="8.2" height="8.2" fill="#f4e04d" stroke="#000" stroke-width="1"/>
<rect x="750.1" y="1459" width="8.2" height="8.2" fill="#f4e04d" stroke="#000" stroke-width="1"/>
<rect x="774.8" y="1457.9" width="8.2" height="8.2" fill="#f4e04d" stroke="#000" stroke-width="1"/>
<rect x="785.6" y="1445.6" width="8.2" height="8.2" fill="#f4e04d" stroke="#000" stroke-width="1"/>
<rect x="802.1" y="1461" width="8.2" height="8.2" fill="#f4e04d" stroke="#000" stroke-width="1"/>
<rect x="856.1" y="1459.5" width="8.2" height="8.2" fill="#f4e04d" stroke="#000" stroke-width="1"/>
<rect x="891" y="1428.1" width="8.2" height="8.2" fill="#f4e04d" stroke="#000" stroke-width="1"/>
<rect x="886.4" y="1445.6" width="8.2" height="8.2" fill="#f4e04d" stroke="#000" stroke-width="1"/>
<rect x="886.4" y="1469.8" width="8.2" height="8.2" fill="#f4e04d" stroke="#000" stroke-width="1"/>
<rect x="882.3" y="1490.9" width="8.2" height="8.2" fill="#f4e04d" stroke="#000" stroke-width="1"/>
<rect x="877.7" y="1519.2" width="8.2" height="8.2" fill="#f4e04d" stroke="#000" stroke-width="1"/>
<rect x="959.5" y="1417.3" width="8.2" height="8.2" fill="#f4e04d" stroke="#000" stroke-width="1"/>
<rect x="969.2" y="1445.6" width="8.2" height="8.2" fill="#f4e04d" stroke="#000" stroke-width="1"/>
<rect x="970.8" y="1490.9" width="8.2" height="8.2" fill="#f4e04d" stroke="#000" stroke-width="1"/>
<rect x="976.4" y="1519.2" width="8.2" height="8.2" fill="#f4e04d" stroke="#000" stroke-width="1"/>
<rect x="1048.5" y="1415.8" width="8.2" height="8.2" fill="#f4e04d" stroke="#000" stroke-width="1"/>
<rect x="1053.6" y="1471.3" width="8.2" height="8.2" fill="#f4e04d" stroke="#000" stroke-width="1"/>
<rect x="1056.7" y="1491.9" width="8.2" height="8.2" fill="#f4e04d" stroke="#000" stroke-width="1"/>
<rect x="1056.7" y="1521.7" width="8.2" height="8.2" fill="#f4e04d" stroke="#000" stroke-width="1"/>
<rect x="1112.2" y="1412.7" width="8.2" height="8.2" fill="#f4e04d" stroke="#000" stroke-width="1"/>
<rect x="1112.2" y="1427.6" width="8.2" height="8.2" fill="#f4e04d" stroke="#000" stroke-width="1"/>
<rect x="1107.6" y="1445.6" width="8.2" height="8.2" fill="#f4e04d" stroke="#000" stroke-width="1"/>
<rect x="1112.2" y="1471.3" width="8.2" height="8.2" fill="#f4e04d" stroke="#000" stroke-width="1"/>
<rect x="1116.4" y="1496.5" width="8.2" height="8.2" fill="#f4e04d" stroke="#000" stroke-width="1"/>
<rect x="1119.4" y="1520.7" width="8.2" height="8.2" fill="#f4e04d" stroke="#000" stroke-width="1"/>
<polygon points="911.3,1260.9 920.5,1279.1 902.1,1279.1" fill="#ed1c24" stroke="#000" stroke-width="0.8" stroke-linejoin="miter"/>
<polygon points="1005.3,1253.6 1014.5,1271.3 996.1,1271.3" fill="#ed1c24" stroke="#000" stroke-width="0.8" stroke-linejoin="miter"/>
<polygon points="1055.3,1252.9 1064.5,1270.1 1046.1,1270.1" fill="#ed1c24" stroke="#000" stroke-width="0.8" stroke-linejoin="miter"/>
<polygon points="1132.7,1250 1141.9,1267 1123.5,1267" fill="#ed1c24" stroke="#000" stroke-width="0.8" stroke-linejoin="miter"/>
</g>
<g id="maplabels">
<text transform="translate(560.1,1015.1) rotate(-90) scale(0.77,1)" font-size="31" font-weight="bold" font-style="italic" fill="#ffffff" >EPR</text>
<text transform="translate(456.6,1203.4) rotate(0) scale(0.77,1)" font-size="30.4" font-weight="normal" font-style="italic" fill="#ffffff" stroke="#ffffff" stroke-width="0.7">WR</text>
<text transform="translate(575.6,1346) rotate(0) scale(0.79,1)" font-size="30.2" font-weight="normal" font-style="italic" fill="#ffffff" stroke="#ffffff" stroke-width="0.7">ER</text>
<text transform="translate(414,1235.6) rotate(20.3) scale(1,1)" font-size="32" font-weight="bold" font-style="italic" fill="#ffffff" >SW Rift</text>
<text transform="translate(878.6,1324.9) rotate(0) scale(1,1)" font-size="31" font-weight="bold" font-style="italic" fill="#ffffff" >SYG</text>
<text transform="translate(702.8,1366.9) rotate(0) scale(1,1)" font-size="30" font-weight="bold" font-style="italic" fill="#ffffff" >EI</text>
<text transform="translate(645.2,1468.8) rotate(-87) scale(0.75,1)" font-size="31" font-weight="bold" font-style="italic" fill="#ffffff" >EPR</text>
<text transform="translate(253.6,1645.8) rotate(9.4) scale(1,1)" font-size="36.9" font-weight="bold" font-style="normal" fill="#efece2" >Foundation</text>
</g>
<g id="mapframe">
<rect x="57" y="883" width="1088" height="810.6" fill="none" stroke="#000" stroke-width="4.2"/>
<g stroke="#000">
<line x1="68.21" y1="884" x2="68.21" y2="889.8" stroke-width="1.0"/>
<line x1="68.21" y1="1686.5" x2="68.21" y2="1692" stroke-width="1.0"/>
<line x1="82.47" y1="884" x2="82.47" y2="889.8" stroke-width="1.0"/>
<line x1="82.47" y1="1686.5" x2="82.47" y2="1692" stroke-width="1.0"/>
<line x1="96.74" y1="884" x2="96.74" y2="889.8" stroke-width="1.0"/>
<line x1="96.74" y1="1686.5" x2="96.74" y2="1692" stroke-width="1.0"/>
<line x1="111" y1="884" x2="111" y2="889.8" stroke-width="2.6"/>
<line x1="111" y1="1686.5" x2="111" y2="1692" stroke-width="2.6"/>
<line x1="125.26" y1="884" x2="125.26" y2="889.8" stroke-width="1.0"/>
<line x1="125.26" y1="1686.5" x2="125.26" y2="1692" stroke-width="1.0"/>
<line x1="139.53" y1="884" x2="139.53" y2="889.8" stroke-width="1.0"/>
<line x1="139.53" y1="1686.5" x2="139.53" y2="1692" stroke-width="1.0"/>
<line x1="153.79" y1="884" x2="153.79" y2="889.8" stroke-width="1.0"/>
<line x1="153.79" y1="1686.5" x2="153.79" y2="1692" stroke-width="1.0"/>
<line x1="168.05" y1="884" x2="168.05" y2="889.8" stroke-width="1.0"/>
<line x1="168.05" y1="1686.5" x2="168.05" y2="1692" stroke-width="1.0"/>
<line x1="182.32" y1="884" x2="182.32" y2="889.8" stroke-width="1.0"/>
<line x1="182.32" y1="1686.5" x2="182.32" y2="1692" stroke-width="1.0"/>
<line x1="196.58" y1="884" x2="196.58" y2="889.8" stroke-width="2.6"/>
<line x1="196.58" y1="1686.5" x2="196.58" y2="1692" stroke-width="2.6"/>
<line x1="210.84" y1="884" x2="210.84" y2="889.8" stroke-width="1.0"/>
<line x1="210.84" y1="1686.5" x2="210.84" y2="1692" stroke-width="1.0"/>
<line x1="225.11" y1="884" x2="225.11" y2="889.8" stroke-width="1.0"/>
<line x1="225.11" y1="1686.5" x2="225.11" y2="1692" stroke-width="1.0"/>
<line x1="239.37" y1="884" x2="239.37" y2="889.8" stroke-width="1.0"/>
<line x1="239.37" y1="1686.5" x2="239.37" y2="1692" stroke-width="1.0"/>
<line x1="253.63" y1="884" x2="253.63" y2="889.8" stroke-width="1.0"/>
<line x1="253.63" y1="1686.5" x2="253.63" y2="1692" stroke-width="1.0"/>
<line x1="267.9" y1="884" x2="267.9" y2="889.8" stroke-width="1.0"/>
<line x1="267.9" y1="1686.5" x2="267.9" y2="1692" stroke-width="1.0"/>
<line x1="282.16" y1="884" x2="282.16" y2="889.8" stroke-width="2.6"/>
<line x1="282.16" y1="1686.5" x2="282.16" y2="1692" stroke-width="2.6"/>
<line x1="296.42" y1="884" x2="296.42" y2="889.8" stroke-width="1.0"/>
<line x1="296.42" y1="1686.5" x2="296.42" y2="1692" stroke-width="1.0"/>
<line x1="310.69" y1="884" x2="310.69" y2="889.8" stroke-width="1.0"/>
<line x1="310.69" y1="1686.5" x2="310.69" y2="1692" stroke-width="1.0"/>
<line x1="324.95" y1="884" x2="324.95" y2="889.8" stroke-width="1.0"/>
<line x1="324.95" y1="1686.5" x2="324.95" y2="1692" stroke-width="1.0"/>
<line x1="339.21" y1="884" x2="339.21" y2="889.8" stroke-width="1.0"/>
<line x1="339.21" y1="1686.5" x2="339.21" y2="1692" stroke-width="1.0"/>
<line x1="353.48" y1="884" x2="353.48" y2="889.8" stroke-width="1.0"/>
<line x1="353.48" y1="1686.5" x2="353.48" y2="1692" stroke-width="1.0"/>
<line x1="367.74" y1="884" x2="367.74" y2="889.8" stroke-width="2.6"/>
<line x1="367.74" y1="1686.5" x2="367.74" y2="1692" stroke-width="2.6"/>
<line x1="382" y1="884" x2="382" y2="889.8" stroke-width="1.0"/>
<line x1="382" y1="1686.5" x2="382" y2="1692" stroke-width="1.0"/>
<line x1="396.27" y1="884" x2="396.27" y2="889.8" stroke-width="1.0"/>
<line x1="396.27" y1="1686.5" x2="396.27" y2="1692" stroke-width="1.0"/>
<line x1="410.53" y1="884" x2="410.53" y2="889.8" stroke-width="1.0"/>
<line x1="410.53" y1="1686.5" x2="410.53" y2="1692" stroke-width="1.0"/>
<line x1="424.79" y1="884" x2="424.79" y2="889.8" stroke-width="1.0"/>
<line x1="424.79" y1="1686.5" x2="424.79" y2="1692" stroke-width="1.0"/>
<line x1="439.06" y1="884" x2="439.06" y2="889.8" stroke-width="1.0"/>
<line x1="439.06" y1="1686.5" x2="439.06" y2="1692" stroke-width="1.0"/>
<line x1="453.32" y1="884" x2="453.32" y2="889.8" stroke-width="2.6"/>
<line x1="453.32" y1="1686.5" x2="453.32" y2="1692" stroke-width="2.6"/>
<line x1="467.58" y1="884" x2="467.58" y2="889.8" stroke-width="1.0"/>
<line x1="467.58" y1="1686.5" x2="467.58" y2="1692" stroke-width="1.0"/>
<line x1="481.85" y1="884" x2="481.85" y2="889.8" stroke-width="1.0"/>
<line x1="481.85" y1="1686.5" x2="481.85" y2="1692" stroke-width="1.0"/>
<line x1="496.11" y1="884" x2="496.11" y2="889.8" stroke-width="1.0"/>
<line x1="496.11" y1="1686.5" x2="496.11" y2="1692" stroke-width="1.0"/>
<line x1="510.37" y1="884" x2="510.37" y2="889.8" stroke-width="1.0"/>
<line x1="510.37" y1="1686.5" x2="510.37" y2="1692" stroke-width="1.0"/>
<line x1="524.64" y1="884" x2="524.64" y2="889.8" stroke-width="1.0"/>
<line x1="524.64" y1="1686.5" x2="524.64" y2="1692" stroke-width="1.0"/>
<line x1="538.9" y1="884" x2="538.9" y2="889.8" stroke-width="2.6"/>
<line x1="538.9" y1="1686.5" x2="538.9" y2="1692" stroke-width="2.6"/>
<line x1="553.16" y1="884" x2="553.16" y2="889.8" stroke-width="1.0"/>
<line x1="553.16" y1="1686.5" x2="553.16" y2="1692" stroke-width="1.0"/>
<line x1="567.43" y1="884" x2="567.43" y2="889.8" stroke-width="1.0"/>
<line x1="567.43" y1="1686.5" x2="567.43" y2="1692" stroke-width="1.0"/>
<line x1="581.69" y1="884" x2="581.69" y2="889.8" stroke-width="1.0"/>
<line x1="581.69" y1="1686.5" x2="581.69" y2="1692" stroke-width="1.0"/>
<line x1="595.95" y1="884" x2="595.95" y2="889.8" stroke-width="1.0"/>
<line x1="595.95" y1="1686.5" x2="595.95" y2="1692" stroke-width="1.0"/>
<line x1="610.22" y1="884" x2="610.22" y2="889.8" stroke-width="1.0"/>
<line x1="610.22" y1="1686.5" x2="610.22" y2="1692" stroke-width="1.0"/>
<line x1="624.48" y1="884" x2="624.48" y2="889.8" stroke-width="2.6"/>
<line x1="624.48" y1="1686.5" x2="624.48" y2="1692" stroke-width="2.6"/>
<line x1="638.74" y1="884" x2="638.74" y2="889.8" stroke-width="1.0"/>
<line x1="638.74" y1="1686.5" x2="638.74" y2="1692" stroke-width="1.0"/>
<line x1="653.01" y1="884" x2="653.01" y2="889.8" stroke-width="1.0"/>
<line x1="653.01" y1="1686.5" x2="653.01" y2="1692" stroke-width="1.0"/>
<line x1="667.27" y1="884" x2="667.27" y2="889.8" stroke-width="1.0"/>
<line x1="667.27" y1="1686.5" x2="667.27" y2="1692" stroke-width="1.0"/>
<line x1="681.53" y1="884" x2="681.53" y2="889.8" stroke-width="1.0"/>
<line x1="681.53" y1="1686.5" x2="681.53" y2="1692" stroke-width="1.0"/>
<line x1="695.8" y1="884" x2="695.8" y2="889.8" stroke-width="1.0"/>
<line x1="695.8" y1="1686.5" x2="695.8" y2="1692" stroke-width="1.0"/>
<line x1="710.06" y1="884" x2="710.06" y2="889.8" stroke-width="2.6"/>
<line x1="710.06" y1="1686.5" x2="710.06" y2="1692" stroke-width="2.6"/>
<line x1="724.32" y1="884" x2="724.32" y2="889.8" stroke-width="1.0"/>
<line x1="724.32" y1="1686.5" x2="724.32" y2="1692" stroke-width="1.0"/>
<line x1="738.59" y1="884" x2="738.59" y2="889.8" stroke-width="1.0"/>
<line x1="738.59" y1="1686.5" x2="738.59" y2="1692" stroke-width="1.0"/>
<line x1="752.85" y1="884" x2="752.85" y2="889.8" stroke-width="1.0"/>
<line x1="752.85" y1="1686.5" x2="752.85" y2="1692" stroke-width="1.0"/>
<line x1="767.11" y1="884" x2="767.11" y2="889.8" stroke-width="1.0"/>
<line x1="767.11" y1="1686.5" x2="767.11" y2="1692" stroke-width="1.0"/>
<line x1="781.38" y1="884" x2="781.38" y2="889.8" stroke-width="1.0"/>
<line x1="781.38" y1="1686.5" x2="781.38" y2="1692" stroke-width="1.0"/>
<line x1="795.64" y1="884" x2="795.64" y2="889.8" stroke-width="2.6"/>
<line x1="795.64" y1="1686.5" x2="795.64" y2="1692" stroke-width="2.6"/>
<line x1="809.9" y1="884" x2="809.9" y2="889.8" stroke-width="1.0"/>
<line x1="809.9" y1="1686.5" x2="809.9" y2="1692" stroke-width="1.0"/>
<line x1="824.17" y1="884" x2="824.17" y2="889.8" stroke-width="1.0"/>
<line x1="824.17" y1="1686.5" x2="824.17" y2="1692" stroke-width="1.0"/>
<line x1="838.43" y1="884" x2="838.43" y2="889.8" stroke-width="1.0"/>
<line x1="838.43" y1="1686.5" x2="838.43" y2="1692" stroke-width="1.0"/>
<line x1="852.69" y1="884" x2="852.69" y2="889.8" stroke-width="1.0"/>
<line x1="852.69" y1="1686.5" x2="852.69" y2="1692" stroke-width="1.0"/>
<line x1="866.96" y1="884" x2="866.96" y2="889.8" stroke-width="1.0"/>
<line x1="866.96" y1="1686.5" x2="866.96" y2="1692" stroke-width="1.0"/>
<line x1="881.22" y1="884" x2="881.22" y2="889.8" stroke-width="2.6"/>
<line x1="881.22" y1="1686.5" x2="881.22" y2="1692" stroke-width="2.6"/>
<line x1="895.48" y1="884" x2="895.48" y2="889.8" stroke-width="1.0"/>
<line x1="895.48" y1="1686.5" x2="895.48" y2="1692" stroke-width="1.0"/>
<line x1="909.75" y1="884" x2="909.75" y2="889.8" stroke-width="1.0"/>
<line x1="909.75" y1="1686.5" x2="909.75" y2="1692" stroke-width="1.0"/>
<line x1="924.01" y1="884" x2="924.01" y2="889.8" stroke-width="1.0"/>
<line x1="924.01" y1="1686.5" x2="924.01" y2="1692" stroke-width="1.0"/>
<line x1="938.27" y1="884" x2="938.27" y2="889.8" stroke-width="1.0"/>
<line x1="938.27" y1="1686.5" x2="938.27" y2="1692" stroke-width="1.0"/>
<line x1="952.54" y1="884" x2="952.54" y2="889.8" stroke-width="1.0"/>
<line x1="952.54" y1="1686.5" x2="952.54" y2="1692" stroke-width="1.0"/>
<line x1="966.8" y1="884" x2="966.8" y2="889.8" stroke-width="2.6"/>
<line x1="966.8" y1="1686.5" x2="966.8" y2="1692" stroke-width="2.6"/>
<line x1="981.06" y1="884" x2="981.06" y2="889.8" stroke-width="1.0"/>
<line x1="981.06" y1="1686.5" x2="981.06" y2="1692" stroke-width="1.0"/>
<line x1="995.33" y1="884" x2="995.33" y2="889.8" stroke-width="1.0"/>
<line x1="995.33" y1="1686.5" x2="995.33" y2="1692" stroke-width="1.0"/>
<line x1="1009.59" y1="884" x2="1009.59" y2="889.8" stroke-width="1.0"/>
<line x1="1009.59" y1="1686.5" x2="1009.59" y2="1692" stroke-width="1.0"/>
<line x1="1023.85" y1="884" x2="1023.85" y2="889.8" stroke-width="1.0"/>
<line x1="1023.85" y1="1686.5" x2="1023.85" y2="1692" stroke-width="1.0"/>
<line x1="1038.12" y1="884" x2="1038.12" y2="889.8" stroke-width="1.0"/>
<line x1="1038.12" y1="1686.5" x2="1038.12" y2="1692" stroke-width="1.0"/>
<line x1="1052.38" y1="884" x2="1052.38" y2="889.8" stroke-width="2.6"/>
<line x1="1052.38" y1="1686.5" x2="1052.38" y2="1692" stroke-width="2.6"/>
<line x1="1066.64" y1="884" x2="1066.64" y2="889.8" stroke-width="1.0"/>
<line x1="1066.64" y1="1686.5" x2="1066.64" y2="1692" stroke-width="1.0"/>
<line x1="1080.91" y1="884" x2="1080.91" y2="889.8" stroke-width="1.0"/>
<line x1="1080.91" y1="1686.5" x2="1080.91" y2="1692" stroke-width="1.0"/>
<line x1="1095.17" y1="884" x2="1095.17" y2="889.8" stroke-width="1.0"/>
<line x1="1095.17" y1="1686.5" x2="1095.17" y2="1692" stroke-width="1.0"/>
<line x1="1109.43" y1="884" x2="1109.43" y2="889.8" stroke-width="1.0"/>
<line x1="1109.43" y1="1686.5" x2="1109.43" y2="1692" stroke-width="1.0"/>
<line x1="1123.7" y1="884" x2="1123.7" y2="889.8" stroke-width="1.0"/>
<line x1="1123.7" y1="1686.5" x2="1123.7" y2="1692" stroke-width="1.0"/>
<line x1="1137.96" y1="884" x2="1137.96" y2="889.8" stroke-width="2.6"/>
<line x1="1137.96" y1="1686.5" x2="1137.96" y2="1692" stroke-width="2.6"/>
<line x1="58" y1="900.99" x2="64.2" y2="900.99" stroke-width="1.0"/>
<line x1="1138" y1="900.99" x2="1144" y2="900.99" stroke-width="1.0"/>
<line x1="58" y1="916.04" x2="64.2" y2="916.04" stroke-width="1.0"/>
<line x1="1138" y1="916.04" x2="1144" y2="916.04" stroke-width="1.0"/>
<line x1="58" y1="931.11" x2="64.2" y2="931.11" stroke-width="1.0"/>
<line x1="1138" y1="931.11" x2="1144" y2="931.11" stroke-width="1.0"/>
<line x1="58" y1="946.21" x2="64.2" y2="946.21" stroke-width="1.0"/>
<line x1="1138" y1="946.21" x2="1144" y2="946.21" stroke-width="1.0"/>
<line x1="58" y1="961.34" x2="64.2" y2="961.34" stroke-width="1.0"/>
<line x1="1138" y1="961.34" x2="1144" y2="961.34" stroke-width="1.0"/>
<line x1="58" y1="976.5" x2="66.5" y2="976.5" stroke="#8c9296" stroke-width="2.2"/>
<line x1="1135.5" y1="976.5" x2="1144" y2="976.5" stroke="#9aa0a4" stroke-width="2.2"/>
<line x1="58" y1="991.69" x2="64.2" y2="991.69" stroke-width="1.0"/>
<line x1="1138" y1="991.69" x2="1144" y2="991.69" stroke-width="1.0"/>
<line x1="58" y1="1006.92" x2="64.2" y2="1006.92" stroke-width="1.0"/>
<line x1="1138" y1="1006.92" x2="1144" y2="1006.92" stroke-width="1.0"/>
<line x1="58" y1="1022.18" x2="64.2" y2="1022.18" stroke-width="1.0"/>
<line x1="1138" y1="1022.18" x2="1144" y2="1022.18" stroke-width="1.0"/>
<line x1="58" y1="1037.48" x2="64.2" y2="1037.48" stroke-width="1.0"/>
<line x1="1138" y1="1037.48" x2="1144" y2="1037.48" stroke-width="1.0"/>
<line x1="58" y1="1052.81" x2="64.2" y2="1052.81" stroke-width="1.0"/>
<line x1="1138" y1="1052.81" x2="1144" y2="1052.81" stroke-width="1.0"/>
<line x1="58" y1="1068.17" x2="66.5" y2="1068.17" stroke="#8c9296" stroke-width="2.2"/>
<line x1="1135.5" y1="1068.17" x2="1144" y2="1068.17" stroke="#9aa0a4" stroke-width="2.2"/>
<line x1="58" y1="1083.58" x2="64.2" y2="1083.58" stroke-width="1.0"/>
<line x1="1138" y1="1083.58" x2="1144" y2="1083.58" stroke-width="1.0"/>
<line x1="58" y1="1099.01" x2="64.2" y2="1099.01" stroke-width="1.0"/>
<line x1="1138" y1="1099.01" x2="1144" y2="1099.01" stroke-width="1.0"/>
<line x1="58" y1="1114.49" x2="64.2" y2="1114.49" stroke-width="1.0"/>
<line x1="1138" y1="1114.49" x2="1144" y2="1114.49" stroke-width="1.0"/>
<line x1="58" y1="1130.01" x2="64.2" y2="1130.01" stroke-width="1.0"/>
<line x1="1138" y1="1130.01" x2="1144" y2="1130.01" stroke-width="1.0"/>
<line x1="58" y1="1145.56" x2="64.2" y2="1145.56" stroke-width="1.0"/>
<line x1="1138" y1="1145.56" x2="1144" y2="1145.56" stroke-width="1.0"/>
<line x1="58" y1="1161.15" x2="66.5" y2="1161.15" stroke="#8c9296" stroke-width="2.2"/>
<line x1="1135.5" y1="1161.15" x2="1144" y2="1161.15" stroke="#9aa0a4" stroke-width="2.2"/>
<line x1="58" y1="1176.79" x2="64.2" y2="1176.79" stroke-width="1.0"/>
<line x1="1138" y1="1176.79" x2="1144" y2="1176.79" stroke-width="1.0"/>
<line x1="58" y1="1192.46" x2="64.2" y2="1192.46" stroke-width="1.0"/>
<line x1="1138" y1="1192.46" x2="1144" y2="1192.46" stroke-width="1.0"/>
<line x1="58" y1="1208.18" x2="64.2" y2="1208.18" stroke-width="1.0"/>
<line x1="1138" y1="1208.18" x2="1144" y2="1208.18" stroke-width="1.0"/>
<line x1="58" y1="1223.94" x2="64.2" y2="1223.94" stroke-width="1.0"/>
<line x1="1138" y1="1223.94" x2="1144" y2="1223.94" stroke-width="1.0"/>
<line x1="58" y1="1239.74" x2="64.2" y2="1239.74" stroke-width="1.0"/>
<line x1="1138" y1="1239.74" x2="1144" y2="1239.74" stroke-width="1.0"/>
<line x1="58" y1="1255.59" x2="66.5" y2="1255.59" stroke="#8c9296" stroke-width="2.2"/>
<line x1="1135.5" y1="1255.59" x2="1144" y2="1255.59" stroke="#9aa0a4" stroke-width="2.2"/>
<line x1="58" y1="1271.48" x2="64.2" y2="1271.48" stroke-width="1.0"/>
<line x1="1138" y1="1271.48" x2="1144" y2="1271.48" stroke-width="1.0"/>
<line x1="58" y1="1287.42" x2="64.2" y2="1287.42" stroke-width="1.0"/>
<line x1="1138" y1="1287.42" x2="1144" y2="1287.42" stroke-width="1.0"/>
<line x1="58" y1="1303.4" x2="64.2" y2="1303.4" stroke-width="1.0"/>
<line x1="1138" y1="1303.4" x2="1144" y2="1303.4" stroke-width="1.0"/>
<line x1="58" y1="1319.43" x2="64.2" y2="1319.43" stroke-width="1.0"/>
<line x1="1138" y1="1319.43" x2="1144" y2="1319.43" stroke-width="1.0"/>
<line x1="58" y1="1335.51" x2="64.2" y2="1335.51" stroke-width="1.0"/>
<line x1="1138" y1="1335.51" x2="1144" y2="1335.51" stroke-width="1.0"/>
<line x1="58" y1="1351.64" x2="66.5" y2="1351.64" stroke="#8c9296" stroke-width="2.2"/>
<line x1="1135.5" y1="1351.64" x2="1144" y2="1351.64" stroke="#9aa0a4" stroke-width="2.2"/>
<line x1="58" y1="1367.82" x2="64.2" y2="1367.82" stroke-width="1.0"/>
<line x1="1138" y1="1367.82" x2="1144" y2="1367.82" stroke-width="1.0"/>
<line x1="58" y1="1384.05" x2="64.2" y2="1384.05" stroke-width="1.0"/>
<line x1="1138" y1="1384.05" x2="1144" y2="1384.05" stroke-width="1.0"/>
<line x1="58" y1="1400.33" x2="64.2" y2="1400.33" stroke-width="1.0"/>
<line x1="1138" y1="1400.33" x2="1144" y2="1400.33" stroke-width="1.0"/>
<line x1="58" y1="1416.67" x2="64.2" y2="1416.67" stroke-width="1.0"/>
<line x1="1138" y1="1416.67" x2="1144" y2="1416.67" stroke-width="1.0"/>
<line x1="58" y1="1433.06" x2="64.2" y2="1433.06" stroke-width="1.0"/>
<line x1="1138" y1="1433.06" x2="1144" y2="1433.06" stroke-width="1.0"/>
<line x1="58" y1="1449.5" x2="66.5" y2="1449.5" stroke="#8c9296" stroke-width="2.2"/>
<line x1="1135.5" y1="1449.5" x2="1144" y2="1449.5" stroke="#9aa0a4" stroke-width="2.2"/>
<line x1="58" y1="1466" x2="64.2" y2="1466" stroke-width="1.0"/>
<line x1="1138" y1="1466" x2="1144" y2="1466" stroke-width="1.0"/>
<line x1="58" y1="1482.55" x2="64.2" y2="1482.55" stroke-width="1.0"/>
<line x1="1138" y1="1482.55" x2="1144" y2="1482.55" stroke-width="1.0"/>
<line x1="58" y1="1499.16" x2="64.2" y2="1499.16" stroke-width="1.0"/>
<line x1="1138" y1="1499.16" x2="1144" y2="1499.16" stroke-width="1.0"/>
<line x1="58" y1="1515.83" x2="64.2" y2="1515.83" stroke-width="1.0"/>
<line x1="1138" y1="1515.83" x2="1144" y2="1515.83" stroke-width="1.0"/>
<line x1="58" y1="1532.56" x2="64.2" y2="1532.56" stroke-width="1.0"/>
<line x1="1138" y1="1532.56" x2="1144" y2="1532.56" stroke-width="1.0"/>
<line x1="58" y1="1549.35" x2="66.5" y2="1549.35" stroke="#8c9296" stroke-width="2.2"/>
<line x1="1135.5" y1="1549.35" x2="1144" y2="1549.35" stroke="#9aa0a4" stroke-width="2.2"/>
<line x1="58" y1="1566.2" x2="64.2" y2="1566.2" stroke-width="1.0"/>
<line x1="1138" y1="1566.2" x2="1144" y2="1566.2" stroke-width="1.0"/>
<line x1="58" y1="1583.11" x2="64.2" y2="1583.11" stroke-width="1.0"/>
<line x1="1138" y1="1583.11" x2="1144" y2="1583.11" stroke-width="1.0"/>
<line x1="58" y1="1600.08" x2="64.2" y2="1600.08" stroke-width="1.0"/>
<line x1="1138" y1="1600.08" x2="1144" y2="1600.08" stroke-width="1.0"/>
<line x1="58" y1="1617.12" x2="64.2" y2="1617.12" stroke-width="1.0"/>
<line x1="1138" y1="1617.12" x2="1144" y2="1617.12" stroke-width="1.0"/>
<line x1="58" y1="1634.23" x2="64.2" y2="1634.23" stroke-width="1.0"/>
<line x1="1138" y1="1634.23" x2="1144" y2="1634.23" stroke-width="1.0"/>
<line x1="58" y1="1651.4" x2="66.5" y2="1651.4" stroke="#8c9296" stroke-width="2.2"/>
<line x1="1135.5" y1="1651.4" x2="1144" y2="1651.4" stroke="#9aa0a4" stroke-width="2.2"/>
<line x1="58" y1="1668.64" x2="64.2" y2="1668.64" stroke-width="1.0"/>
<line x1="1138" y1="1668.64" x2="1144" y2="1668.64" stroke-width="1.0"/>
<line x1="58" y1="1685.95" x2="64.2" y2="1685.95" stroke-width="1.0"/>
<line x1="1138" y1="1685.95" x2="1144" y2="1685.95" stroke-width="1.0"/>
</g>
<g font-size="30.3">
<text x="75.7" y="1733.3">124&#176;</text>
<text x="163.5" y="1733">122&#176;</text>
<text x="252.5" y="1733.3">120&#176;</text>
<text x="334.5" y="1733.3">118&#176;</text>
<text x="419.5" y="1733.3">116&#176;</text>
<text x="503.5" y="1733.6">114&#176;</text>
<text x="589" y="1732.3">112&#176;</text>
<text x="674" y="1732.5">110&#176;</text>
<text x="754.5" y="1733.6">108&#176;</text>
<text x="850.5" y="1733.6">106&#176;</text>
<text x="930" y="1733">104&#176;</text>
<text x="1018" y="1729.7">102&#176;</text>
<text x="1105" y="1732.8">100&#176;</text>
<text x="1154.6" y="987.5">20&#176;</text>
<text x="1154.6" y="1076">22&#176;</text>
<text x="1154.6" y="1174.5">24&#176;</text>
<text x="1154.6" y="1268.5">26&#176;</text>
<text x="1154.6" y="1368.5">28&#176;</text>
<text x="1154.6" y="1461.5">30&#176;</text>
<text x="1154.6" y="1561.5">32&#176;</text>
<text x="1154.6" y="1661.5">34&#176;</text>
</g>
<text x="462.6" y="1789.7" font-size="50.7">Longitude &#186;W</text>
<text transform="translate(1255,1388) rotate(-90)" font-size="50.3" font-weight="normal" font-style="normal" fill="#231f20" text-anchor="start" >Latitude &#186;S</text>
<text x="0" y="934.8" font-size="41.3" font-weight="bold">B</text>
</g>
</g>
<g id="panelA">
<g id="axesA" fill="none">
<line x1="109.8" y1="10.2" x2="109.8" y2="809.5" stroke="#000000" stroke-width="1.5" />
<line x1="104.5" y1="10.2" x2="1308.4" y2="10.2" stroke="#000000" stroke-width="1.5" />
<line x1="1308.4" y1="10.2" x2="1308.4" y2="810.1" stroke="#000000" stroke-width="1.5" />
<line x1="104.3" y1="809.5" x2="1309" y2="809.5" stroke="#000000" stroke-width="1.5" />
<line x1="104.5" y1="780.96" x2="109.8" y2="780.96" stroke="#000000" stroke-width="1.5" />
<line x1="104.5" y1="752.41" x2="116.5" y2="752.41" stroke="#000000" stroke-width="1.5" />
<line x1="104.5" y1="723.87" x2="109.8" y2="723.87" stroke="#000000" stroke-width="1.5" />
<line x1="104.5" y1="695.32" x2="116.5" y2="695.32" stroke="#000000" stroke-width="1.5" />
<line x1="104.5" y1="666.77" x2="109.8" y2="666.77" stroke="#000000" stroke-width="1.5" />
<line x1="104.5" y1="638.23" x2="116.5" y2="638.23" stroke="#000000" stroke-width="1.5" />
<line x1="104.5" y1="609.68" x2="109.8" y2="609.68" stroke="#000000" stroke-width="1.5" />
<line x1="104.5" y1="581.14" x2="116.5" y2="581.14" stroke="#000000" stroke-width="1.5" />
<line x1="104.5" y1="552.6" x2="109.8" y2="552.6" stroke="#000000" stroke-width="1.5" />
<line x1="104.5" y1="524.05" x2="116.5" y2="524.05" stroke="#000000" stroke-width="1.5" />
<line x1="104.5" y1="495.5" x2="109.8" y2="495.5" stroke="#000000" stroke-width="1.5" />
<line x1="104.5" y1="466.96" x2="116.5" y2="466.96" stroke="#000000" stroke-width="1.5" />
<line x1="104.5" y1="438.41" x2="109.8" y2="438.41" stroke="#000000" stroke-width="1.5" />
<line x1="104.5" y1="409.87" x2="116.5" y2="409.87" stroke="#000000" stroke-width="1.5" />
<line x1="104.5" y1="381.32" x2="109.8" y2="381.32" stroke="#000000" stroke-width="1.5" />
<line x1="104.5" y1="352.78" x2="116.5" y2="352.78" stroke="#000000" stroke-width="1.5" />
<line x1="104.5" y1="324.23" x2="109.8" y2="324.23" stroke="#000000" stroke-width="1.5" />
<line x1="104.5" y1="295.69" x2="116.5" y2="295.69" stroke="#000000" stroke-width="1.5" />
<line x1="104.5" y1="267.14" x2="109.8" y2="267.14" stroke="#000000" stroke-width="1.5" />
<line x1="104.5" y1="238.6" x2="116.5" y2="238.6" stroke="#000000" stroke-width="1.5" />
<line x1="104.5" y1="210.05" x2="109.8" y2="210.05" stroke="#000000" stroke-width="1.5" />
<line x1="104.5" y1="181.51" x2="116.5" y2="181.51" stroke="#000000" stroke-width="1.5" />
<line x1="104.5" y1="152.96" x2="109.8" y2="152.96" stroke="#000000" stroke-width="1.5" />
<line x1="104.5" y1="124.42" x2="116.5" y2="124.42" stroke="#000000" stroke-width="1.5" />
<line x1="104.5" y1="95.88" x2="109.8" y2="95.88" stroke="#000000" stroke-width="1.5" />
<line x1="104.5" y1="67.33" x2="116.5" y2="67.33" stroke="#000000" stroke-width="1.5" />
<line x1="104.5" y1="38.78" x2="109.8" y2="38.78" stroke="#000000" stroke-width="1.5" />
<line x1="109.8" y1="809.5" x2="109.8" y2="802" stroke="#000000" stroke-width="1.5" />
<line x1="152.62" y1="809.5" x2="152.62" y2="803.8" stroke="#000000" stroke-width="1.5" />
<line x1="195.44" y1="809.5" x2="195.44" y2="802" stroke="#000000" stroke-width="1.5" />
<line x1="238.26" y1="809.5" x2="238.26" y2="803.8" stroke="#000000" stroke-width="1.5" />
<line x1="281.08" y1="809.5" x2="281.08" y2="802" stroke="#000000" stroke-width="1.5" />
<line x1="323.9" y1="809.5" x2="323.9" y2="803.8" stroke="#000000" stroke-width="1.5" />
<line x1="366.72" y1="809.5" x2="366.72" y2="802" stroke="#000000" stroke-width="1.5" />
<line x1="409.54" y1="809.5" x2="409.54" y2="803.8" stroke="#000000" stroke-width="1.5" />
<line x1="452.36" y1="809.5" x2="452.36" y2="802" stroke="#000000" stroke-width="1.5" />
<line x1="495.18" y1="809.5" x2="495.18" y2="803.8" stroke="#000000" stroke-width="1.5" />
<line x1="538" y1="809.5" x2="538" y2="802" stroke="#000000" stroke-width="1.5" />
<line x1="580.82" y1="809.5" x2="580.82" y2="803.8" stroke="#000000" stroke-width="1.5" />
<line x1="623.64" y1="809.5" x2="623.64" y2="802" stroke="#000000" stroke-width="1.5" />
<line x1="666.46" y1="809.5" x2="666.46" y2="803.8" stroke="#000000" stroke-width="1.5" />
<line x1="709.28" y1="809.5" x2="709.28" y2="802" stroke="#000000" stroke-width="1.5" />
<line x1="752.1" y1="809.5" x2="752.1" y2="803.8" stroke="#000000" stroke-width="1.5" />
<line x1="794.92" y1="809.5" x2="794.92" y2="802" stroke="#000000" stroke-width="1.5" />
<line x1="837.74" y1="809.5" x2="837.74" y2="803.8" stroke="#000000" stroke-width="1.5" />
<line x1="880.56" y1="809.5" x2="880.56" y2="802" stroke="#000000" stroke-width="1.5" />
<line x1="923.38" y1="809.5" x2="923.38" y2="803.8" stroke="#000000" stroke-width="1.5" />
<line x1="966.2" y1="809.5" x2="966.2" y2="802" stroke="#000000" stroke-width="1.5" />
<line x1="1009.02" y1="809.5" x2="1009.02" y2="803.8" stroke="#000000" stroke-width="1.5" />
<line x1="1051.84" y1="809.5" x2="1051.84" y2="802" stroke="#000000" stroke-width="1.5" />
<line x1="1094.66" y1="809.5" x2="1094.66" y2="803.8" stroke="#000000" stroke-width="1.5" />
<line x1="1137.48" y1="809.5" x2="1137.48" y2="802" stroke="#000000" stroke-width="1.5" />
<line x1="1180.3" y1="809.5" x2="1180.3" y2="803.8" stroke="#000000" stroke-width="1.5" />
<line x1="1223.12" y1="809.5" x2="1223.12" y2="802" stroke="#000000" stroke-width="1.5" />
<line x1="1265.94" y1="809.5" x2="1265.94" y2="803.8" stroke="#000000" stroke-width="1.5" />
<line x1="1308.76" y1="809.5" x2="1308.76" y2="802" stroke="#000000" stroke-width="1.5" />
</g>
<g id="ylabelsA" font-size="23.3" text-anchor="end">
<text x="87.6" y="817.7">0</text>
<text x="87.6" y="760.61">1</text>
<text x="87.6" y="703.52">2</text>
<text x="87.6" y="646.43">3</text>
<text x="87.6" y="589.34">4</text>
<text x="87.6" y="532.25">5</text>
<text x="87.6" y="475.16">6</text>
<text x="87.6" y="418.07">7</text>
<text x="87.6" y="360.98">8</text>
<text x="87.6" y="303.89">9</text>
<text x="87.6" y="246.8">10</text>
<text x="87.6" y="189.71">11</text>
<text x="87.6" y="132.62">12</text>
<text x="87.6" y="75.53">13</text>
<text x="87.6" y="18.44">14</text>
</g>
<g id="xlabelsA" font-size="23.3" text-anchor="end">
<text transform="translate(118.2,824.6) rotate(-90)">-124</text>
<text transform="translate(203.84,824.6) rotate(-90)">-122</text>
<text transform="translate(289.48,824.6) rotate(-90)">-120</text>
<text transform="translate(375.12,824.6) rotate(-90)">-118</text>
<text transform="translate(460.76,824.6) rotate(-90)">-116</text>
<text transform="translate(546.4,824.6) rotate(-90)">-114</text>
<text transform="translate(632.04,824.6) rotate(-90)">-112</text>
<text transform="translate(717.68,824.6) rotate(-90)">-110</text>
<text transform="translate(803.32,824.6) rotate(-90)">-108</text>
<text transform="translate(888.96,824.6) rotate(-90)">-106</text>
<text transform="translate(974.6,824.6) rotate(-90)">-104</text>
<text transform="translate(1060.24,824.6) rotate(-90)">-102</text>
<text transform="translate(1145.88,824.6) rotate(-90)">-100</text>
<text transform="translate(1231.52,824.6) rotate(-90)">-98</text>
<text transform="translate(1317.16,824.6) rotate(-90)">-96</text>
</g>
<text transform="translate(37.3,504.8) rotate(-90)" font-size="51" font-weight="normal" font-style="normal" fill="#231f20" text-anchor="start" >Age (Ma)</text>
<text x="0.5" y="32" font-size="42.5" font-weight="bold">A</text>
<g id="xmarks" stroke="#231f20" stroke-width="0.9">
<path d="M584.9,803.2 L596.1,817.5 M596.1,803.2 L584.9,817.5" fill="none"/>
<path d="M588.9,803.2 L600.1,817.5 M600.1,803.2 L588.9,817.5" fill="none"/>
<path d="M593.4,803.2 L604.6,817.5 M604.6,803.2 L593.4,817.5" fill="none"/>
<path d="M603.9,803.2 L615.1,817.5 M615.1,803.2 L603.9,817.5" fill="none"/>
<path d="M611.9,803.2 L623.1,817.5 M623.1,803.2 L611.9,817.5" fill="none"/>
<path d="M620.4,803.2 L631.6,817.5 M631.6,803.2 L620.4,817.5" fill="none"/>
<path d="M630.4,803.2 L641.6,817.5 M641.6,803.2 L630.4,817.5" fill="none"/>
<path d="M638.4,803.2 L649.6,817.5 M649.6,803.2 L638.4,817.5" fill="none"/>
</g>
<g id="pinkbands" fill="#ed1c24" fill-opacity="0.31">
<rect x="1011.4" y="224.3" width="281.6" height="15.7" rx="6" ry="6"/>
<rect x="858.5" y="445.4" width="279" height="16.2" rx="6" ry="6"/>
<path d="M650,795.3 H894.2 a6,6 0 0 1 6,6 V803.5 a6,6 0 0 1 -6,6 H650 Z"/>
</g>
<g id="markersA">
<circle cx="135" cy="63.5" r="7.2" fill="none" stroke="#000000" stroke-width="2"/>
<circle cx="173.5" cy="243" r="7.2" fill="none" stroke="#000000" stroke-width="2"/>
<circle cx="208" cy="243" r="7.2" fill="none" stroke="#000000" stroke-width="2"/>
<circle cx="240.4" cy="312.5" r="7.2" fill="none" stroke="#000000" stroke-width="2"/>
<circle cx="315" cy="434.3" r="7.2" fill="none" stroke="#000000" stroke-width="2"/>
<circle cx="324.1" cy="473" r="7.2" fill="none" stroke="#000000" stroke-width="2"/>
<circle cx="292.3" cy="472.8" r="7" fill="none" stroke="#000000" stroke-width="3"/>
<circle cx="406" cy="662" r="7.2" fill="none" stroke="#000000" stroke-width="2"/>
<circle cx="410.6" cy="662" r="7.2" fill="none" stroke="#000000" stroke-width="2"/>
<circle cx="415.1" cy="662" r="7.2" fill="none" stroke="#000000" stroke-width="2"/>
<circle cx="419.7" cy="662" r="7.2" fill="none" stroke="#000000" stroke-width="2"/>
<circle cx="432.2" cy="708.6" r="7.2" fill="none" stroke="#000000" stroke-width="2"/>
<circle cx="435.6" cy="708.6" r="7.2" fill="none" stroke="#000000" stroke-width="2"/>
<circle cx="444.7" cy="748.5" r="7.2" fill="none" stroke="#000000" stroke-width="2"/>
<circle cx="449.3" cy="748.5" r="7.2" fill="none" stroke="#000000" stroke-width="2"/>
<circle cx="453.4" cy="764.4" r="7.2" fill="none" stroke="#000000" stroke-width="2"/>
<circle cx="457.2" cy="764.4" r="7.2" fill="none" stroke="#000000" stroke-width="2"/>
<circle cx="460.6" cy="764.4" r="7.2" fill="none" stroke="#000000" stroke-width="2"/>
<circle cx="464.1" cy="764.4" r="7.2" fill="none" stroke="#000000" stroke-width="2"/>
<circle cx="474.3" cy="808.8" r="7.6" fill="none" stroke="#000000" stroke-width="1.8"/>
<circle cx="478.9" cy="808.8" r="7.6" fill="none" stroke="#000000" stroke-width="1.8"/>
<circle cx="172.5" cy="63.5" r="6.9" fill="#f0e822" stroke="#000000" stroke-width="1"/>
<circle cx="166.5" cy="63.5" r="6.9" fill="#f0e822" stroke="#000000" stroke-width="1"/>
<circle cx="240" cy="184" r="6.9" fill="#f0e822" stroke="#000000" stroke-width="1"/>
<circle cx="243.5" cy="184" r="6.9" fill="#f0e822" stroke="#000000" stroke-width="1"/>
<circle cx="247" cy="184" r="6.9" fill="#f0e822" stroke="#000000" stroke-width="1"/>
<circle cx="337.8" cy="312.5" r="6.9" fill="#f0e822" stroke="#000000" stroke-width="1"/>
<circle cx="351.5" cy="312.5" r="6.9" fill="#f0e822" stroke="#000000" stroke-width="1"/>
<circle cx="411.8" cy="434.3" r="6.9" fill="#f0e822" stroke="#000000" stroke-width="1"/>
<circle cx="418.6" cy="434.3" r="6.9" fill="#f0e822" stroke="#000000" stroke-width="1"/>
<circle cx="427.7" cy="434.3" r="6.9" fill="#f0e822" stroke="#000000" stroke-width="1"/>
<circle cx="438.6" cy="473" r="6.9" fill="#f0e822" stroke="#000000" stroke-width="1"/>
<circle cx="436.8" cy="473" r="6.9" fill="#f0e822" stroke="#000000" stroke-width="1"/>
<circle cx="540.5" cy="662" r="6.9" fill="#f0e822" stroke="#000000" stroke-width="1"/>
<circle cx="543" cy="662" r="6.9" fill="#f0e822" stroke="#000000" stroke-width="1"/>
<circle cx="545.5" cy="662" r="6.9" fill="#f0e822" stroke="#000000" stroke-width="1"/>
<circle cx="548" cy="662" r="6.9" fill="#f0e822" stroke="#000000" stroke-width="1"/>
<circle cx="597.5" cy="764.6" r="6.9" fill="#f0e822" stroke="#000000" stroke-width="1"/>
<circle cx="600" cy="764.6" r="6.9" fill="#f0e822" stroke="#000000" stroke-width="1"/>
<circle cx="602.5" cy="764.6" r="6.9" fill="#f0e822" stroke="#000000" stroke-width="1"/>
<circle cx="605" cy="764.6" r="6.9" fill="#f0e822" stroke="#000000" stroke-width="1"/>
<circle cx="607.3" cy="764.6" r="6.9" fill="#f0e822" stroke="#000000" stroke-width="1"/>
<polygon points="216,324.8 225.3,334.1 216,343.4 206.7,334.1" fill="#ed1c24" stroke="#000000" stroke-width="1.1"/>
<circle cx="216" cy="334.1" r="1.1" fill="#3aa648"/>
<polygon points="208.7,367.6 218,376.9 208.7,386.2 199.4,376.9" fill="#ed1c24" stroke="#000000" stroke-width="1.1"/>
<circle cx="208.7" cy="376.9" r="1.1" fill="#3aa648"/>
<polygon points="198.9,373.8 208.2,383.1 198.9,392.4 189.6,383.1" fill="#ed1c24" stroke="#000000" stroke-width="1.1"/>
<circle cx="198.9" cy="383.1" r="1.1" fill="#3aa648"/>
<polygon points="290.4,570.7 299.7,580 290.4,589.3 281.1,580" fill="#ed1c24" stroke="#000000" stroke-width="1.1"/>
<circle cx="290.4" cy="580" r="1.1" fill="#3aa648"/>
<polygon points="328,611 337.3,620.3 328,629.6 318.7,620.3" fill="#ed1c24" stroke="#000000" stroke-width="1.1"/>
<circle cx="328" cy="620.3" r="1.1" fill="#3aa648"/>
<line x1="338" y1="656" x2="338" y2="684" stroke="#1a1718" stroke-width="1.25" />
<line x1="334.7" y1="656" x2="341.3" y2="656" stroke="#1a1718" stroke-width="1.25" />
<line x1="334.7" y1="684" x2="341.3" y2="684" stroke="#1a1718" stroke-width="1.25" />
<polygon points="338,661.2 347.3,670.5 338,679.8 328.7,670.5" fill="#ed1c24" stroke="#000000" stroke-width="1.1"/>
<rect x="356.15" y="599.05" width="16.5" height="16.5" fill="#4473b9" stroke="#1a2540" stroke-width="1.3"/>
<rect x="359.55" y="605.45" width="16.5" height="16.5" fill="#4473b9" stroke="#1a2540" stroke-width="1.3"/>
<line x1="496.2" y1="685.2" x2="496.2" y2="717.3" stroke="#1a1718" stroke-width="1.25" />
<line x1="492.7" y1="685.2" x2="499.7" y2="685.2" stroke="#1a1718" stroke-width="1.25" />
<line x1="492.7" y1="717.3" x2="499.7" y2="717.3" stroke="#1a1718" stroke-width="1.25" />
<rect x="487.95" y="692.85" width="16.5" height="16.5" fill="#4473b9" stroke="#1a2540" stroke-width="1.3"/>
<rect x="501.55" y="716.25" width="16.5" height="16.5" fill="#4473b9" stroke="#1a2540" stroke-width="1.3"/>
<line x1="545.3" y1="725.7" x2="545.3" y2="773.5" stroke="#1a1718" stroke-width="1.25" />
<line x1="541.8" y1="725.7" x2="548.8" y2="725.7" stroke="#1a1718" stroke-width="1.25" />
<line x1="541.8" y1="773.5" x2="548.8" y2="773.5" stroke="#1a1718" stroke-width="1.25" />
<rect x="536.55" y="740.85" width="17.5" height="17.5" fill="#4473b9" stroke="#1a2540" stroke-width="1.3"/>
<circle cx="496.2" cy="701.1" r="1.1" fill="#5aa046"/>
<circle cx="509.8" cy="724.5" r="1.1" fill="#5aa046"/>
<polygon points="549.9,595.5 559.5,615.5 540.3,615.5" fill="none" stroke="#000000" stroke-width="2" stroke-linejoin="miter"/>
<polygon points="559.7,595.5 569.3,615.5 550.1,615.5" fill="none" stroke="#000000" stroke-width="2" stroke-linejoin="miter"/>
<polygon points="514.1,699.5 523.9,718.4 504.3,718.4" fill="none" stroke="#000000" stroke-width="2.4" stroke-linejoin="miter"/>
<polygon points="501.6,739.5 511.8,758.2 491.4,758.2" fill="none" stroke="#000000" stroke-width="2.8" stroke-linejoin="miter"/>
<polygon points="490.9,756.8 501.1,775.2 480.7,775.2" fill="none" stroke="#000000" stroke-width="2.8" stroke-linejoin="miter"/>
<rect x="552" y="757.4" width="14" height="14" fill="none" stroke="#000000" stroke-width="2"/>
<rect x="609.1" y="628.8" width="14" height="14" fill="none" stroke="#000000" stroke-width="2"/>
<rect x="628.9" y="618.5" width="14" height="14" fill="none" stroke="#000000" stroke-width="2"/>
<rect x="659.5" y="557.6" width="14" height="14" fill="none" stroke="#000000" stroke-width="2"/>
<rect x="690.8" y="503.9" width="13.4" height="13.4" fill="none" stroke="#000000" stroke-width="2"/>
<rect x="695.8" y="503.9" width="13.4" height="13.4" fill="none" stroke="#000000" stroke-width="2"/>
<rect x="700.8" y="503.9" width="13.4" height="13.4" fill="none" stroke="#000000" stroke-width="2"/>
<rect x="723.3" y="452.3" width="13.4" height="13.4" fill="none" stroke="#000000" stroke-width="2"/>
<rect x="728.3" y="452.3" width="13.4" height="13.4" fill="none" stroke="#000000" stroke-width="2"/>
<rect x="733.3" y="452.3" width="13.4" height="13.4" fill="none" stroke="#000000" stroke-width="2"/>
<rect x="751.6" y="427.9" width="13.4" height="13.4" fill="none" stroke="#000000" stroke-width="2.2"/>
<rect x="754.8" y="427.9" width="13.4" height="13.4" fill="none" stroke="#000000" stroke-width="2.2"/>
<rect x="757.8" y="427.9" width="13.4" height="13.4" fill="none" stroke="#000000" stroke-width="2.2"/>
<rect x="761.5" y="427.9" width="13.4" height="13.4" fill="none" stroke="#000000" stroke-width="2.2"/>
<rect x="774.4" y="370.9" width="13.4" height="13.4" fill="none" stroke="#000000" stroke-width="2"/>
<rect x="786.3" y="370.9" width="13.4" height="13.4" fill="none" stroke="#000000" stroke-width="2"/>
<rect x="854.5" y="305.8" width="13.6" height="13.6" fill="none" stroke="#000000" stroke-width="2.7"/>
<rect x="857.4" y="305.8" width="13.6" height="13.6" fill="none" stroke="#000000" stroke-width="2.7"/>
<rect x="960" y="177.2" width="13.6" height="13.6" fill="none" stroke="#000000" stroke-width="2.7"/>
<rect x="962.6" y="177.2" width="13.6" height="13.6" fill="none" stroke="#000000" stroke-width="2.7"/>
<rect x="1029.2" y="56.2" width="14.2" height="14.2" fill="none" stroke="#000000" stroke-width="2.1"/>
<rect x="689.6" y="690.3" width="14" height="14" fill="#f0e822" stroke="#000000" stroke-width="2"/>
<rect x="721.5" y="628.6" width="14" height="14" fill="#f0e822" stroke="#000000" stroke-width="2"/>
<rect x="747.1" y="618.3" width="14" height="14" fill="#f0e822" stroke="#000000" stroke-width="2"/>
<rect x="772.4" y="557.8" width="14" height="14" fill="#f0e822" stroke="#000000" stroke-width="2"/>
<rect x="782.6" y="510.6" width="14" height="14" fill="#f0e822" stroke="#000000" stroke-width="2"/>
<rect x="799.7" y="503.4" width="14" height="14" fill="#f0e822" stroke="#000000" stroke-width="2"/>
<rect x="854.8" y="452.6" width="14" height="14" fill="#f0e822" stroke="#000000" stroke-width="2"/>
<rect x="890.55" y="427.95" width="13.3" height="13.3" fill="#f0e822" stroke="#000000" stroke-width="1.9"/>
<rect x="887.85" y="427.95" width="13.3" height="13.3" fill="#f0e822" stroke="#000000" stroke-width="1.9"/>
<rect x="884.85" y="427.95" width="13.3" height="13.3" fill="#f0e822" stroke="#000000" stroke-width="1.9"/>
<rect x="880.85" y="427.95" width="13.3" height="13.3" fill="#f0e822" stroke="#000000" stroke-width="1.9"/>
<rect x="874.35" y="427.95" width="13.3" height="13.3" fill="#f0e822" stroke="#000000" stroke-width="1.9"/>
<rect x="976.15" y="305.95" width="13.3" height="13.3" fill="#f0e822" stroke="#000000" stroke-width="1.9"/>
<rect x="969.85" y="305.95" width="13.3" height="13.3" fill="#f0e822" stroke="#000000" stroke-width="1.9"/>
<rect x="964.35" y="305.95" width="13.3" height="13.3" fill="#f0e822" stroke="#000000" stroke-width="1.9"/>
<rect x="957.65" y="305.95" width="13.3" height="13.3" fill="#f0e822" stroke="#000000" stroke-width="1.9"/>
<rect x="1055.45" y="177.35" width="13.3" height="13.3" fill="#f0e822" stroke="#000000" stroke-width="2"/>
<rect x="1046.55" y="177.35" width="13.3" height="13.3" fill="#f0e822" stroke="#000000" stroke-width="2"/>
<rect x="1051.85" y="177.35" width="13.3" height="13.3" fill="#f0e822" stroke="#000000" stroke-width="2"/>
<rect x="1119.15" y="56.65" width="13.3" height="13.3" fill="#f0e822" stroke="#000000" stroke-width="2"/>
<rect x="1116.15" y="56.65" width="13.3" height="13.3" fill="#f0e822" stroke="#000000" stroke-width="2"/>
<rect x="1113.15" y="56.65" width="13.3" height="13.3" fill="#f0e822" stroke="#000000" stroke-width="2"/>
<rect x="1105.45" y="56.65" width="13.3" height="13.3" fill="#f0e822" stroke="#000000" stroke-width="2"/>
<rect x="1109.55" y="56.65" width="13.3" height="13.3" fill="#f0e822" stroke="#000000" stroke-width="2"/>
<line x1="667.3" y1="615" x2="667.3" y2="729" stroke="#1a1718" stroke-width="1.25" />
<line x1="663.9" y1="615" x2="670.7" y2="615" stroke="#1a1718" stroke-width="1.25" />
<line x1="663.9" y1="729" x2="670.7" y2="729" stroke="#1a1718" stroke-width="1.25" />
<rect x="662.1" y="666.6" width="10.4" height="10.4" fill="#ed1c24" stroke="none" stroke-width="0"/>
<line x1="695.6" y1="753" x2="695.6" y2="794.5" stroke="#1a1718" stroke-width="1.25" />
<line x1="692.2" y1="753" x2="699" y2="753" stroke="#1a1718" stroke-width="1.25" />
<line x1="692.2" y1="794.5" x2="699" y2="794.5" stroke="#1a1718" stroke-width="1.25" />
<rect x="690.6" y="768.1" width="10.4" height="10.4" fill="#ed1c24" stroke="none" stroke-width="0"/>
<line x1="723.3" y1="787" x2="723.3" y2="805" stroke="#1a1718" stroke-width="1.25" />
<line x1="719.9" y1="787" x2="726.7" y2="787" stroke="#1a1718" stroke-width="1.25" />
<line x1="719.9" y1="805" x2="726.7" y2="805" stroke="#1a1718" stroke-width="1.25" />
<rect x="718.1" y="791" width="10.4" height="10.4" fill="#ed1c24" stroke="none" stroke-width="0"/>
<rect x="731.2" y="796.4" width="10.4" height="10.4" fill="#ed1c24" stroke="none" stroke-width="0"/>
<line x1="913" y1="690.2" x2="913" y2="706.6" stroke="#1a1718" stroke-width="1.25" />
<line x1="909.6" y1="690.2" x2="916.4" y2="690.2" stroke="#1a1718" stroke-width="1.25" />
<line x1="909.6" y1="706.6" x2="916.4" y2="706.6" stroke="#1a1718" stroke-width="1.25" />
<rect x="908.6" y="692.85" width="8.8" height="11.5" fill="#231f20" stroke="none" stroke-width="0"/>
<polygon points="913,721.5 922.8,742.3 903.2,742.3" fill="#e8412a" stroke="#000000" stroke-width="1" stroke-linejoin="miter"/>
<rect x="908.7" y="731.5" width="8.6" height="9.6" fill="#231f20" stroke="none" stroke-width="0"/>
<line x1="1261.6" y1="238" x2="1261.6" y2="293.7" stroke="#1a1718" stroke-width="1.25" />
<line x1="1258" y1="238" x2="1265.2" y2="238" stroke="#1a1718" stroke-width="1.25" />
<line x1="1258" y1="293.7" x2="1265.2" y2="293.7" stroke="#1a1718" stroke-width="1.25" />
<polygon points="1261.6,256.6 1271.4,276.2 1251.8,276.2" fill="#ed1c24" stroke="#000000" stroke-width="0.9" stroke-linejoin="miter"/>
<polygon points="1134.9,427.6 1144.7,446.8 1125.1,446.8" fill="#ed1c24" stroke="#000000" stroke-width="0.9" stroke-linejoin="miter"/>
<line x1="1057.2" y1="541.7" x2="1057.2" y2="573.5" stroke="#1a1718" stroke-width="1.25" />
<line x1="1053.6" y1="541.7" x2="1060.8" y2="541.7" stroke="#1a1718" stroke-width="1.25" />
<line x1="1053.6" y1="573.5" x2="1060.8" y2="573.5" stroke="#1a1718" stroke-width="1.25" />
<polygon points="1057.2,549.9 1067,568.2 1047.4,568.2" fill="#ed1c24" stroke="#000000" stroke-width="0.9" stroke-linejoin="miter"/>
<line x1="1006.8" y1="632.1" x2="1006.8" y2="669.5" stroke="#1a1718" stroke-width="1.25" />
<line x1="1003.2" y1="632.1" x2="1010.4" y2="632.1" stroke="#1a1718" stroke-width="1.25" />
<line x1="1003.2" y1="669.5" x2="1010.4" y2="669.5" stroke="#1a1718" stroke-width="1.25" />
<polygon points="1006.8,641.9 1016.6,661 997,661" fill="#ed1c24" stroke="#000000" stroke-width="0.9" stroke-linejoin="miter"/>
</g>
<g id="linesA" fill="none">
<line x1="180.7" y1="331.9" x2="361.8" y2="689.5" stroke="#231f20" stroke-width="5.5" stroke-dasharray="5 6.9"/>
<line x1="114.2" y1="65.5" x2="476.6" y2="807.5" stroke="#000000" stroke-width="2.9" />
<line x1="485.6" y1="808.5" x2="1037" y2="79" stroke="#000000" stroke-width="2.9" />
<line x1="166.5" y1="48.5" x2="638" y2="809.3" stroke="#00aeef" stroke-width="2.8" />
<line x1="622.5" y1="809.3" x2="1126.3" y2="71.5" stroke="#00aeef" stroke-width="2.8" />
<line x1="551.2" y1="803.6" x2="1062" y2="63.8" stroke="#00aeef" stroke-width="5.1" stroke-dasharray="5 5.5"/>
<line x1="363.9" y1="608.5" x2="622.3" y2="806.5" stroke="#00aeef" stroke-width="6" stroke-linecap="round"/>
<line x1="889.5" y1="809.8" x2="1309.3" y2="202.5" stroke="#ed1c24" stroke-width="5.3" />
</g>
<path d="M650,795.3 H630.7 a6,6 0 0 0 -6,6 V803.5 a6,6 0 0 0 6,6 H650 Z" fill="#ed1c24" fill-opacity="0.31"/>
<path d="M732.5,667.5 V661.5 H741.5" fill="none" stroke="#e3a57e" stroke-width="0.8"/>
<circle cx="290.4" cy="752.6" r="0.9" fill="#4a7fd0"/>
<line x1="475.9" y1="808" x2="475.9" y2="1152" stroke="#231f20" stroke-width="3.8" />
<line x1="550.6" y1="804" x2="550.6" y2="949.6" stroke="#231f20" stroke-width="4.3" />
<g id="labelsA">
<text transform="translate(268.4,325) rotate(62.3)" font-size="24.5" font-weight="normal" font-style="normal" fill="#231f20" text-anchor="start" >EPR north of SYGR</text>
<text transform="translate(315,362.6) rotate(61)" font-size="24.5" font-weight="normal" font-style="normal" fill="#231f20" text-anchor="start" >73.2 mm/yr</text>
<text transform="translate(410.7,364.1) rotate(59.4)" font-size="24.5" font-weight="normal" font-style="normal" fill="#231f20" text-anchor="start" >EPR&#160; south of SYGR</text>
<text transform="translate(454,388) rotate(58.5)" font-size="24.5" font-weight="normal" font-style="normal" fill="#231f20" text-anchor="start" >91.6 mm/yr</text>
<text transform="translate(173.9,404.7) rotate(64.2)" font-size="31.2" font-weight="bold" font-style="normal" fill="#ea1f3d" text-anchor="start" >Pacific Trend</text>
<text transform="translate(417.4,640.3) rotate(37.3)" font-size="21.6" font-weight="bold" font-style="normal" fill="#00aeef" text-anchor="start" >SW Rift</text>
<text transform="translate(761,358.3) rotate(-54.3)" font-size="24.5" font-weight="normal" font-style="normal" fill="#231f20" text-anchor="start" >EPR north of SYGR</text>
<text transform="translate(766.7,307.1) rotate(-53)" font-size="24.5" font-weight="normal" font-style="normal" fill="#231f20" text-anchor="start" >112.2 mm/yr</text>
<text transform="translate(814.9,469.4) rotate(-54.7)" font-size="24.5" font-weight="normal" font-style="normal" fill="#231f20" text-anchor="start" >EPR&#160; 19&#176;-16&#176; S (Fig. S1)</text>
<text transform="translate(790.1,675.8) rotate(-55)" font-size="24.5" font-weight="normal" font-style="normal" fill="#231f20" text-anchor="start" >EPR south of SYGR</text>
<text transform="translate(794.6,624.6) rotate(-53.3)" font-size="24.5" font-weight="normal" font-style="normal" fill="#231f20" text-anchor="start" >101.2 mm/yr</text>
<text transform="translate(1128.8,510.2) rotate(-53.2)" font-size="23.3" font-weight="normal" font-style="normal" fill="#231f20" text-anchor="start" >104 mm/yr</text>
<text transform="translate(1161.3,507.6) rotate(-52.5)" font-size="23.8" font-weight="normal" font-style="normal" fill="#231f20" text-anchor="start" >SYGR</text>
<text x="160.5" y="779" font-size="31.5" font-style="italic">PACIFIC</text>
<text x="1059.5" y="789.4" font-size="32" font-style="italic">NAZCA</text>
</g>
</g>
</svg>
</body>
</html>
